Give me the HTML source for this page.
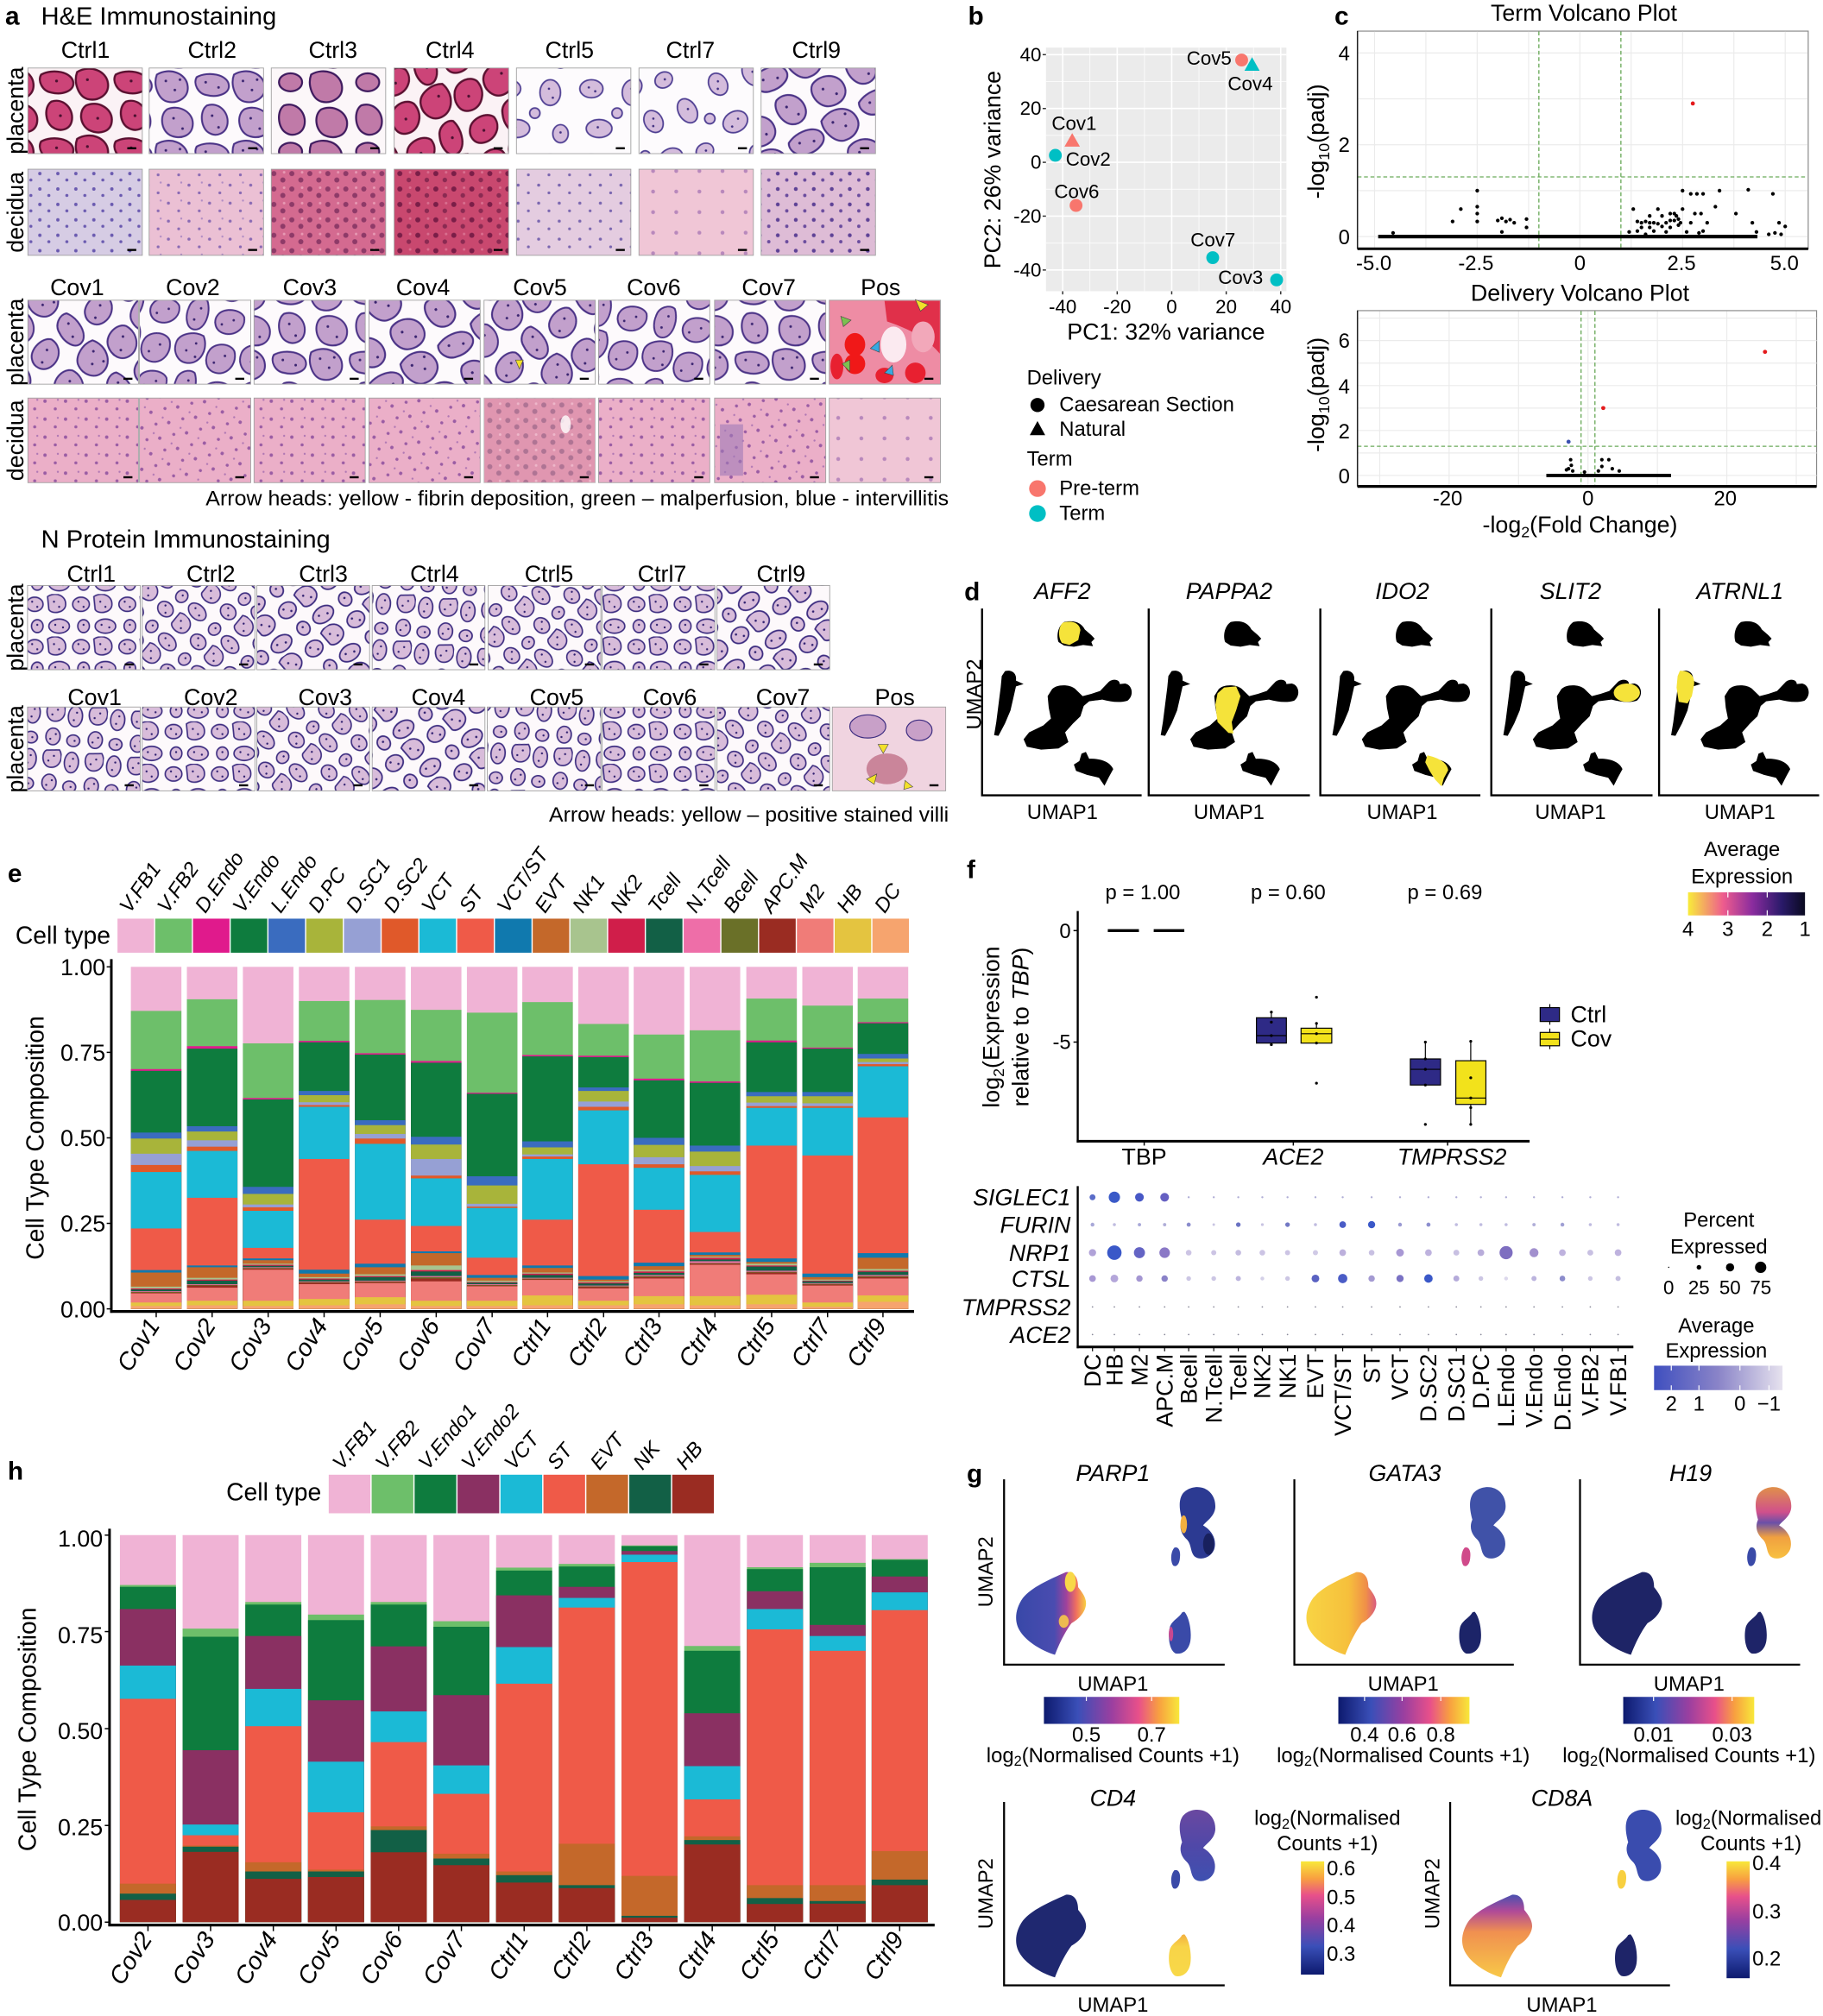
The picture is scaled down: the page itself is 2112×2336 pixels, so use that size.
<!DOCTYPE html>
<html><head><meta charset="utf-8">
<style>
html,body{margin:0;padding:0;background:#fff;}
svg{display:block;}
text{font-family:"Liberation Sans",Arial,sans-serif;fill:#000;}
.it{font-style:italic;}
.bd{font-weight:bold;}
.a0{fill:#F0B3D5}.a1{fill:#6DBF6A}.a2{fill:#E01A8C}.a3{fill:#0E7C3E}.a4{fill:#3A6CBF}.a5{fill:#A8B43A}.a6{fill:#96A0D4}.a7{fill:#E0592A}.a8{fill:#1BBAD6}.a9{fill:#EF5A48}.a10{fill:#1079AE}.a11{fill:#C4682A}.a12{fill:#A8C48E}.a13{fill:#D01E4A}.a14{fill:#126046}.a15{fill:#EE6EA8}.a16{fill:#6A7028}.a17{fill:#9A2C22}.a18{fill:#F07C78}.a19{fill:#E4C440}.a20{fill:#F6A46E}
.h0{fill:#F0B3D5}.h1{fill:#6DBF6A}.h2{fill:#0E7C3E}.h3{fill:#8A3062}.h4{fill:#1BBAD6}.h5{fill:#EF5A48}.h6{fill:#C4682A}.h7{fill:#126046}.h8{fill:#9A2C22}
</style></head><body>
<svg xmlns="http://www.w3.org/2000/svg" xmlns:xlink="http://www.w3.org/1999/xlink" width="2112" height="2336" viewBox="0 0 1418 1568" preserveAspectRatio="none">
<defs>
<pattern id="pv" width="60" height="54" patternUnits="userSpaceOnUse">
<rect width="60" height="54" fill="#FDFAFC"/>
<g fill="#C2A0CC" stroke="#4A3286" stroke-width="1.4">
<path d="M2,4 C12,-2 25,3 26,13 C27,22 18,27 10,25 C3,23 -1,12 2,4 Z"/>
<path d="M33,6 C42,1 57,4 58,12 C59,19 49,22 41,20 C34,19 30,11 33,6 Z"/>
<path d="M10,31 C19,27 30,33 30,42 C30,52 20,55 12,51 C5,47 4,35 10,31 Z"/>
<path d="M41,28 C50,25 58,33 57,42 C56,50 48,53 42,49 C36,45 35,32 41,28 Z"/>
</g>
<g fill="#3A2470"><circle cx="9" cy="9" r="1"/><circle cx="16" cy="16" r="1"/><circle cx="20" cy="8" r="1"/><circle cx="40" cy="10" r="1"/><circle cx="50" cy="14" r="1"/><circle cx="15" cy="38" r="1"/><circle cx="22" cy="46" r="1"/><circle cx="45" cy="36" r="1"/><circle cx="50" cy="45" r="1"/></g>
</pattern>
<pattern id="pv2" href="#pv" xlink:href="#pv" patternTransform="rotate(50) translate(7,3)"/>
<pattern id="pv3" href="#pv" xlink:href="#pv" patternTransform="rotate(-30) scale(1.05)"/>
<pattern id="pv4" href="#pv" xlink:href="#pv" patternTransform="rotate(100) scale(0.95)"/>
<pattern id="pr" width="58" height="52" patternUnits="userSpaceOnUse">
<rect width="58" height="52" fill="#FBF2F5"/>
<g fill="#CC4478" stroke="#5A1030" stroke-width="1.6">
<path d="M2,4 C12,-2 25,3 26,13 C27,22 18,27 10,25 C3,23 -1,12 2,4 Z"/>
<path d="M32,6 C41,1 56,4 57,12 C58,19 48,22 40,20 C33,19 29,11 32,6 Z"/>
<path d="M9,30 C18,26 29,32 29,41 C29,51 19,53 11,49 C4,45 3,34 9,30 Z"/>
<path d="M40,27 C49,24 57,32 56,41 C55,49 47,51 41,47 C35,43 34,31 40,27 Z"/>
</g>
<g fill="#4A1030"><circle cx="10" cy="10" r="1.1"/><circle cx="44" cy="11" r="1.1"/><circle cx="18" cy="40" r="1.1"/><circle cx="47" cy="38" r="1.1"/></g>
</pattern>
<pattern id="pr2" href="#pr" xlink:href="#pr" patternTransform="rotate(70) translate(3,7)"/>
<pattern id="pm" width="60" height="54" patternUnits="userSpaceOnUse">
<rect width="60" height="54" fill="#FCF7F9"/>
<g fill="#C07AA8" stroke="#3E1A5E" stroke-width="1.5">
<path d="M2,4 C12,-2 25,3 26,13 C27,22 18,27 10,25 C3,23 -1,12 2,4 Z"/>
<path d="M10,31 C19,27 30,33 30,42 C30,52 20,55 12,51 C5,47 4,35 10,31 Z"/>
<path d="M41,28 C50,25 58,33 57,42 C56,50 48,53 42,49 C36,45 35,32 41,28 Z"/>
<ellipse cx="46" cy="10" rx="9" ry="7"/>
</g>
</pattern>
<pattern id="pl" width="64" height="58" patternUnits="userSpaceOnUse">
<rect width="64" height="58" fill="#FDFBFD"/>
<g fill="#D4BCDC" stroke="#4E3E92" stroke-width="1.2">
<ellipse cx="12" cy="11" rx="9" ry="7"/><ellipse cx="44" cy="14" rx="8" ry="10"/><ellipse cx="18" cy="42" rx="10" ry="7"/><ellipse cx="52" cy="46" rx="6" ry="7"/><ellipse cx="32" cy="30" rx="4" ry="4"/>
</g>
<g fill="#3E2E80"><circle cx="10" cy="10" r="0.9"/><circle cx="15" cy="13" r="0.9"/><circle cx="43" cy="11" r="0.9"/><circle cx="46" cy="18" r="0.9"/><circle cx="17" cy="41" r="0.9"/><circle cx="52" cy="45" r="0.9"/></g>
</pattern>
<pattern id="pl2" href="#pl" xlink:href="#pl" patternTransform="rotate(60) translate(4,2)"/>
<pattern id="np" width="36" height="33" patternUnits="userSpaceOnUse">
<rect width="36" height="33" fill="#FDF9FB"/>
<g fill="#D8BCDA" stroke="#3C2C80" stroke-width="1.1">
<path d="M1,2 C7,-2 16,1 15,9 C14,15 4,16 2,12 Z"/><ellipse cx="27" cy="8" rx="6.5" ry="5.5"/><ellipse cx="10" cy="25" rx="8" ry="5.5"/><ellipse cx="29" cy="25" rx="4.5" ry="5"/>
</g>
<g fill="#302070"><circle cx="6" cy="6" r="0.8"/><circle cx="10" cy="10" r="0.8"/><circle cx="25" cy="6" r="0.8"/><circle cx="29" cy="10" r="0.8"/><circle cx="7" cy="24" r="0.8"/><circle cx="13" cy="26" r="0.8"/><circle cx="29" cy="24" r="0.8"/></g>
</pattern>
<pattern id="np2" href="#np" xlink:href="#np" patternTransform="rotate(45) translate(3,5)"/>
<pattern id="np3" href="#np" xlink:href="#np" patternTransform="rotate(-35) scale(1.1)"/>
<pattern id="np4" href="#np" xlink:href="#np" patternTransform="rotate(95)"/>
<pattern id="dp" width="16" height="14" patternUnits="userSpaceOnUse"><rect width="16" height="14" fill="#EBC0D4"/><circle cx="3" cy="4" r="1.2" fill="#8A6AB4"/><circle cx="11" cy="10" r="1.1" fill="#8A6AB4"/><circle cx="13" cy="2" r="0.8" fill="#B08CC4"/></pattern>
<pattern id="dk" width="16" height="14" patternUnits="userSpaceOnUse"><rect width="16" height="14" fill="#EBAFC8"/><circle cx="3" cy="4" r="1.3" fill="#9A5CA4"/><circle cx="11" cy="10" r="1.2" fill="#9A5CA4"/><circle cx="13" cy="3" r="0.8" fill="#B078B4"/></pattern>
<pattern id="dk2" href="#dk" xlink:href="#dk" patternTransform="rotate(30) translate(3,5)"/>
<pattern id="dd" width="14" height="12" patternUnits="userSpaceOnUse"><rect width="14" height="12" fill="#D46A90"/><circle cx="3" cy="3" r="2" fill="#8E3A68"/><circle cx="10" cy="8" r="2" fill="#8E3A68"/><circle cx="11" cy="2" r="1" fill="#E89AB4"/></pattern>
<pattern id="dd2" width="14" height="12" patternUnits="userSpaceOnUse"><rect width="14" height="12" fill="#C9486F"/><circle cx="3" cy="3" r="2" fill="#7A1E48"/><circle cx="10" cy="8" r="1.8" fill="#8A2A52"/><circle cx="11" cy="2" r="1" fill="#DA7090"/></pattern>
<pattern id="db" width="14" height="12" patternUnits="userSpaceOnUse"><rect width="14" height="12" fill="#D6CCE4"/><circle cx="3" cy="3" r="1.3" fill="#6A5AB0"/><circle cx="10" cy="8" r="1.2" fill="#6A5AB0"/></pattern>
<pattern id="dl" width="16" height="14" patternUnits="userSpaceOnUse"><rect width="16" height="14" fill="#E4CCE0"/><circle cx="3" cy="4" r="1.2" fill="#7A66B0"/><circle cx="11" cy="10" r="1.1" fill="#7A66B0"/></pattern>
<pattern id="dq" width="18" height="16" patternUnits="userSpaceOnUse"><rect width="18" height="16" fill="#F0C6D6"/><circle cx="4" cy="5" r="1.5" fill="#B888BC"/></pattern>
<pattern id="dm" width="14" height="12" patternUnits="userSpaceOnUse"><rect width="14" height="12" fill="#DEBCD6"/><circle cx="3" cy="3" r="1.5" fill="#5E4296"/><circle cx="10" cy="8" r="1.3" fill="#6A4C9E"/></pattern>
<linearGradient id="plasmaH" x1="0" x2="1" y1="0" y2="0"><stop offset="0" stop-color="#0D1A6E"/><stop offset="0.25" stop-color="#3A4FB8"/><stop offset="0.5" stop-color="#9A3FA0"/><stop offset="0.7" stop-color="#E8508A"/><stop offset="0.85" stop-color="#F8A040"/><stop offset="1" stop-color="#F8E83A"/></linearGradient>
<linearGradient id="plasmaV" x1="0" x2="0" y1="1" y2="0"><stop offset="0" stop-color="#0D1A6E"/><stop offset="0.25" stop-color="#3A4FB8"/><stop offset="0.5" stop-color="#9A3FA0"/><stop offset="0.7" stop-color="#E8508A"/><stop offset="0.85" stop-color="#F8A040"/><stop offset="1" stop-color="#F8E83A"/></linearGradient>
<linearGradient id="avg1" x1="0" x2="1"><stop offset="0" stop-color="#F8EC3A"/><stop offset="0.3" stop-color="#EE5C8E"/><stop offset="0.55" stop-color="#8A2C9E"/><stop offset="0.8" stop-color="#2A1A6A"/><stop offset="1" stop-color="#0A0A20"/></linearGradient>
<linearGradient id="avg2" x1="0" x2="1"><stop offset="0" stop-color="#3F4FBF"/><stop offset="0.5" stop-color="#8A84C8"/><stop offset="1" stop-color="#E6E2EE"/></linearGradient>
<linearGradient id="parpB" x1="0" x2="1"><stop offset="0" stop-color="#3848A8"/><stop offset="0.55" stop-color="#4A4CB0"/><stop offset="0.72" stop-color="#A0429C"/><stop offset="0.86" stop-color="#F07060"/><stop offset="1" stop-color="#F8D040"/></linearGradient>
<linearGradient id="gataB" x1="0" x2="1"><stop offset="0" stop-color="#F8D444"/><stop offset="0.6" stop-color="#F6C03C"/><stop offset="0.85" stop-color="#F09048"/><stop offset="1" stop-color="#D85A80"/></linearGradient>
<linearGradient id="h19T" x1="0" x2="0" y1="0" y2="1"><stop offset="0" stop-color="#E0904A"/><stop offset="0.35" stop-color="#D0508C"/><stop offset="0.5" stop-color="#6A50A8"/><stop offset="0.7" stop-color="#F0A040"/><stop offset="1" stop-color="#F8C040"/></linearGradient>
<linearGradient id="cd4T" x1="0" x2="0" y1="0" y2="1"><stop offset="0" stop-color="#6A48A0"/><stop offset="0.5" stop-color="#5048A8"/><stop offset="1" stop-color="#3E50B0"/></linearGradient>
<linearGradient id="cd4S" x1="0" x2="0" y1="0" y2="1"><stop offset="0" stop-color="#F2B040"/><stop offset="0.3" stop-color="#F8D448"/><stop offset="1" stop-color="#F8D848"/></linearGradient>
<linearGradient id="cd8B" x1="0" x2="0" y1="0" y2="1"><stop offset="0" stop-color="#4A50B0"/><stop offset="0.2" stop-color="#B04A98"/><stop offset="0.45" stop-color="#F09050"/><stop offset="1" stop-color="#F8C848"/></linearGradient>
<path id="gB" d="M112,258 C128,256 134,275 134,300 C140,312 150,330 148,350 C146,372 134,390 122,400 C112,420 100,455 92,488 C70,478 40,452 28,420 C18,395 20,360 34,330 C50,300 80,280 112,258 Z"/>
<path id="gT" d="M345,22 C368,18 384,45 382,80 C380,104 366,116 360,128 C374,140 386,165 380,195 C374,218 356,226 346,216 C336,204 340,180 330,166 C320,152 316,132 322,112 C318,90 314,58 324,38 C330,28 338,23 345,22 Z"/>
<path id="gL" d="M308,190 C316,186 320,200 318,220 C317,235 312,245 306,240 C300,225 302,200 308,190 Z"/>
<path id="gS" d="M326,368 C334,380 340,420 337,450 C334,476 322,488 310,484 C298,474 296,434 300,410 C304,392 316,386 322,370 Z"/>
<g id="ud" fill="#000">
<path d="M150,212 C168,204 182,214 188,238 L200,258 L206,270 L200,282 L203,296 L185,292 L168,298 L150,294 L140,282 C136,262 138,228 150,212 Z"/>
<path d="M42,383 C55,376 64,392 62,416 L76,428 L62,436 L58,470 L52,520 L42,565 L30,608 L22,606 L26,560 L30,500 L34,440 L36,400 Z"/>
<path d="M128,446 C136,428 160,428 170,444 L184,470 L200,462 L216,452 L232,420 C240,408 252,412 252,428 L262,426 C276,432 278,470 266,486 C252,494 236,490 220,482 L196,488 L186,504 L180,540 L166,566 L152,596 L158,630 L140,652 L108,656 L82,646 L76,620 L86,596 L112,572 L126,548 L122,510 L120,470 Z"/>
<path d="M182,670 L190,664 L196,688 C214,686 234,696 240,724 L232,752 L224,782 L214,754 L192,744 L172,730 L168,708 L178,696 Z"/>
</g>
</defs>
<rect width="1418" height="1568" fill="#fff"/>

<!-- ================= PANEL A ================= -->
<text x="4" y="19" font-size="20" class="bd">a</text>
<text x="32" y="19" font-size="19" textLength="183" lengthAdjust="spacingAndGlyphs">H&amp;E Immunostaining</text>
<g font-size="18" text-anchor="middle">
<text x="66.5" y="45">Ctrl1</text><text x="165" y="45">Ctrl2</text><text x="259" y="45">Ctrl3</text><text x="350" y="45">Ctrl4</text><text x="443" y="45">Ctrl5</text><text x="537" y="45">Ctrl7</text><text x="635" y="45">Ctrl9</text>
<text x="60" y="229.5">Cov1</text><text x="150" y="229.5">Cov2</text><text x="241" y="229.5">Cov3</text><text x="329" y="229.5">Cov4</text><text x="420" y="229.5">Cov5</text><text x="508.5" y="229.5">Cov6</text><text x="598" y="229.5">Cov7</text><text x="685" y="229.5">Pos</text>
<text transform="translate(18,86) rotate(-90)">placenta</text>
<text transform="translate(18,165) rotate(-90)">decidua</text>
<text transform="translate(18,266) rotate(-90)">placenta</text>
<text transform="translate(18,342.5) rotate(-90)">decidua</text>
<text transform="translate(18,488) rotate(-90)">placenta</text>
<text transform="translate(18,582.5) rotate(-90)">placenta</text>
</g>
<g stroke="#A0A0A0" stroke-width="0.6">
<rect x="21.7" y="52.9" width="89" height="66.6" fill="url(#pr)"/>
<rect x="116" y="52.9" width="89" height="66.6" fill="url(#pv)"/>
<rect x="211" y="52.9" width="89" height="66.6" fill="url(#pm)"/>
<rect x="306.6" y="52.9" width="89" height="66.6" fill="url(#pr2)"/>
<rect x="401.7" y="52.9" width="89" height="66.6" fill="url(#pl)"/>
<rect x="497" y="52.9" width="89" height="66.6" fill="url(#pl2)"/>
<rect x="592" y="52.9" width="89" height="66.6" fill="url(#pv3)"/>
<rect x="21.7" y="131.6" width="89" height="67" fill="url(#db)"/>
<rect x="116" y="131.6" width="89" height="67" fill="url(#dp)"/>
<rect x="211" y="131.6" width="89" height="67" fill="url(#dd)"/>
<rect x="306.6" y="131.6" width="89" height="67" fill="url(#dd2)"/>
<rect x="401.7" y="131.6" width="89" height="67" fill="url(#dl)"/>
<rect x="497" y="131.6" width="89" height="67" fill="url(#dq)"/>
<rect x="592" y="131.6" width="89" height="67" fill="url(#dm)"/>
<rect x="21.7" y="233.5" width="86" height="65.3" fill="url(#pv2)"/>
<rect x="108.5" y="233.5" width="86.5" height="65.3" fill="url(#pv4)"/>
<rect x="197.6" y="233.5" width="86.5" height="65.3" fill="url(#pv)"/>
<rect x="287" y="233.5" width="86.5" height="65.3" fill="url(#pv3)"/>
<rect x="376.5" y="233.5" width="86.5" height="65.3" fill="url(#pv2)"/>
<rect x="465.6" y="233.5" width="86.5" height="65.3" fill="url(#pv4)"/>
<rect x="555.8" y="233.5" width="86.5" height="65.3" fill="url(#pv)"/>
<rect x="645" y="233.5" width="86.5" height="65.3" fill="#EE8CA4"/>
<rect x="21.7" y="309.6" width="86" height="65.8" fill="url(#dk)"/>
<rect x="108.5" y="309.6" width="86.5" height="65.8" fill="url(#dk2)"/>
<rect x="197.6" y="309.6" width="86.5" height="65.8" fill="url(#dk)"/>
<rect x="287" y="309.6" width="86.5" height="65.8" fill="url(#dk2)"/>
<rect x="376.5" y="309.6" width="86.5" height="65.8" fill="url(#dd)" opacity="0.7"/>
<rect x="465.6" y="309.6" width="86.5" height="65.8" fill="url(#dk)"/>
<rect x="555.8" y="309.6" width="86.5" height="65.8" fill="url(#dk2)"/>
<rect x="645" y="309.6" width="86.5" height="65.8" fill="url(#dq)"/>
</g>
<!-- Pos placenta details -->
<g>
<path d="M688,234 L731,234 L731,275 C720,262 705,255 690,250 Z" fill="#E0304A"/>
<ellipse cx="665" cy="268" rx="8" ry="9" fill="#F01818"/><ellipse cx="665" cy="283" rx="8" ry="8" fill="#F01818"/>
<ellipse cx="695" cy="268" rx="10" ry="14" fill="#FBEAF0"/>
<ellipse cx="688" cy="292" rx="7" ry="6" fill="#E82030"/><ellipse cx="712" cy="290" rx="8" ry="8" fill="#E82030"/>
<ellipse cx="651" cy="285" rx="5" ry="10" fill="#E82030"/>
<ellipse cx="718" cy="262" rx="9" ry="12" fill="#F2A8BA"/>
<polygon points="712,233 722,237 716,242" fill="#F2E02A" stroke="#444" stroke-width="0.4"/>
<polygon points="654,246 662,249 656,254" fill="#7CC050" stroke="#444" stroke-width="0.4"/>
<polygon points="655,283 661,280 661,289" fill="#7CC050" stroke="#444" stroke-width="0.4"/>
<polygon points="677,271 684,265 684,274" fill="#38A8E0" stroke="#444" stroke-width="0.4"/>
<polygon points="688,290 694,284 695,292" fill="#38A8E0" stroke="#444" stroke-width="0.4"/>
<polygon points="401,280 407,280 404,287" fill="#F2E02A" stroke="#444" stroke-width="0.4"/>
<rect x="560" y="330" width="18" height="40" fill="#9E7AB8" opacity="0.6"/>
<ellipse cx="440" cy="330" rx="4" ry="7" fill="#FFFFFF" opacity="0.8"/>
</g>
<g fill="#000">
<rect x="99" y="114.5" width="7" height="1.6"/><rect x="193" y="114.5" width="7" height="1.6"/><rect x="288" y="114.5" width="7" height="1.6"/><rect x="384" y="114.5" width="7" height="1.6"/><rect x="479" y="114.5" width="7" height="1.6"/><rect x="574" y="114.5" width="7" height="1.6"/><rect x="669" y="114.5" width="7" height="1.6"/>
<rect x="99" y="193.6" width="7" height="1.6"/><rect x="193" y="193.6" width="7" height="1.6"/><rect x="288" y="193.6" width="7" height="1.6"/><rect x="384" y="193.6" width="7" height="1.6"/><rect x="479" y="193.6" width="7" height="1.6"/><rect x="574" y="193.6" width="7" height="1.6"/><rect x="669" y="193.6" width="7" height="1.6"/>
<rect x="96" y="293.8" width="7" height="1.6"/><rect x="183" y="293.8" width="7" height="1.6"/><rect x="272" y="293.8" width="7" height="1.6"/><rect x="361" y="293.8" width="7" height="1.6"/><rect x="451" y="293.8" width="7" height="1.6"/><rect x="540" y="293.8" width="7" height="1.6"/><rect x="630" y="293.8" width="7" height="1.6"/><rect x="719" y="293.8" width="7" height="1.6"/>
<rect x="96" y="370.4" width="7" height="1.6"/><rect x="183" y="370.4" width="7" height="1.6"/><rect x="272" y="370.4" width="7" height="1.6"/><rect x="361" y="370.4" width="7" height="1.6"/><rect x="451" y="370.4" width="7" height="1.6"/><rect x="540" y="370.4" width="7" height="1.6"/><rect x="630" y="370.4" width="7" height="1.6"/><rect x="719" y="370.4" width="7" height="1.6"/>
</g>
<text x="160" y="393" font-size="16" textLength="578" lengthAdjust="spacingAndGlyphs">Arrow heads: yellow - fibrin deposition, green – malperfusion, blue - intervillitis</text>

<!-- N protein -->
<text x="32" y="426" font-size="19" textLength="225" lengthAdjust="spacingAndGlyphs">N Protein Immunostaining</text>
<g font-size="18" text-anchor="middle">
<text x="71" y="452.5">Ctrl1</text><text x="164" y="452.5">Ctrl2</text><text x="251.5" y="452.5">Ctrl3</text><text x="338" y="452.5">Ctrl4</text><text x="427" y="452.5">Ctrl5</text><text x="515" y="452.5">Ctrl7</text><text x="607.5" y="452.5">Ctrl9</text>
<text x="73.6" y="548.5">Cov1</text><text x="164" y="548.5">Cov2</text><text x="253" y="548.5">Cov3</text><text x="341" y="548.5">Cov4</text><text x="433" y="548.5">Cov5</text><text x="521" y="548.5">Cov6</text><text x="609" y="548.5">Cov7</text><text x="696" y="548.5">Pos</text>
</g>
<g stroke="#A0A0A0" stroke-width="0.6">
<rect x="21.4" y="455.4" width="87.7" height="65.5" fill="url(#np)"/>
<rect x="110.6" y="455.4" width="87.7" height="65.5" fill="url(#np2)"/>
<rect x="199.8" y="455.4" width="87.7" height="65.5" fill="url(#np3)"/>
<rect x="289.5" y="455.4" width="87.7" height="65.5" fill="url(#np4)"/>
<rect x="379.7" y="455.4" width="87.7" height="65.5" fill="url(#np2)"/>
<rect x="468.4" y="455.4" width="87.7" height="65.5" fill="url(#np)"/>
<rect x="557.7" y="455.4" width="87.7" height="65.5" fill="url(#np3)"/>
<rect x="21.4" y="549.9" width="87.7" height="65.2" fill="url(#np4)"/>
<rect x="110.6" y="549.9" width="87.7" height="65.2" fill="url(#np)"/>
<rect x="199.8" y="549.9" width="87.7" height="65.2" fill="url(#np2)"/>
<rect x="289.5" y="549.9" width="87.7" height="65.2" fill="url(#np3)"/>
<rect x="379" y="549.9" width="88.4" height="65.2" fill="url(#np4)"/>
<rect x="468.4" y="549.9" width="87.7" height="65.2" fill="url(#np)"/>
<rect x="557.7" y="549.9" width="87.7" height="65.2" fill="url(#np2)"/>
<rect x="647.4" y="549.9" width="88.2" height="65.2" fill="#F0D4E0"/>
</g>
<g>
<ellipse cx="690" cy="598" rx="16" ry="12" fill="#C07088" opacity="0.8"/>
<ellipse cx="675" cy="565" rx="14" ry="9" fill="#C8A0C8" stroke="#3C2C80" stroke-width="0.8"/>
<ellipse cx="715" cy="568" rx="10" ry="8" fill="#C8A0C8" stroke="#3C2C80" stroke-width="0.8"/>
<polygon points="683,579 691,579 687,586" fill="#F2E02A" stroke="#444" stroke-width="0.4"/>
<polygon points="674,606 682,602 680,610" fill="#F2E02A" stroke="#444" stroke-width="0.4"/>
<polygon points="704,607 710,612 703,614" fill="#F2E02A" stroke="#444" stroke-width="0.4"/>
</g>
<g fill="#000">
<rect x="97" y="516" width="7" height="1.6"/><rect x="186" y="516" width="7" height="1.6"/><rect x="275" y="516" width="7" height="1.6"/><rect x="365" y="516" width="7" height="1.6"/><rect x="455" y="516" width="7" height="1.6"/><rect x="544" y="516" width="7" height="1.6"/><rect x="633" y="516" width="7" height="1.6"/>
<rect x="97" y="610" width="7" height="1.6"/><rect x="186" y="610" width="7" height="1.6"/><rect x="275" y="610" width="7" height="1.6"/><rect x="365" y="610" width="7" height="1.6"/><rect x="455" y="610" width="7" height="1.6"/><rect x="544" y="610" width="7" height="1.6"/><rect x="633" y="610" width="7" height="1.6"/><rect x="723" y="610" width="7" height="1.6"/>
</g>
<text x="427" y="639" font-size="16" textLength="311" lengthAdjust="spacingAndGlyphs">Arrow heads: yellow – positive stained villi</text>

<!-- ================= PANEL B ================= -->
<text x="753" y="19" font-size="20" class="bd">b</text>
<rect x="813.6" y="37" width="187" height="189.5" fill="#EBEBEB"/>
<g stroke="#fff" stroke-width="0.5">
<line x1="847.8" y1="37" x2="847.8" y2="226.5"/><line x1="890.2" y1="37" x2="890.2" y2="226.5"/><line x1="932.6" y1="37" x2="932.6" y2="226.5"/><line x1="975" y1="37" x2="975" y2="226.5"/>
<line x1="813.6" y1="63.4" x2="1000.6" y2="63.4"/><line x1="813.6" y1="105.3" x2="1000.6" y2="105.3"/><line x1="813.6" y1="147.2" x2="1000.6" y2="147.2"/><line x1="813.6" y1="189.1" x2="1000.6" y2="189.1"/>
</g>
<g stroke="#fff" stroke-width="1.1">
<line x1="826.6" y1="37" x2="826.6" y2="226.5"/><line x1="869" y1="37" x2="869" y2="226.5"/><line x1="911.4" y1="37" x2="911.4" y2="226.5"/><line x1="953.8" y1="37" x2="953.8" y2="226.5"/><line x1="996.2" y1="37" x2="996.2" y2="226.5"/>
<line x1="813.6" y1="42.5" x2="1000.6" y2="42.5"/><line x1="813.6" y1="84.4" x2="1000.6" y2="84.4"/><line x1="813.6" y1="126.25" x2="1000.6" y2="126.25"/><line x1="813.6" y1="168.1" x2="1000.6" y2="168.1"/><line x1="813.6" y1="210" x2="1000.6" y2="210"/>
</g>
<g stroke="#333" stroke-width="1">
<line x1="811" y1="42.5" x2="813.6" y2="42.5"/><line x1="811" y1="84.4" x2="813.6" y2="84.4"/><line x1="811" y1="126.25" x2="813.6" y2="126.25"/><line x1="811" y1="168.1" x2="813.6" y2="168.1"/><line x1="811" y1="210" x2="813.6" y2="210"/>
<line x1="826.6" y1="226.5" x2="826.6" y2="229"/><line x1="869" y1="226.5" x2="869" y2="229"/><line x1="911.4" y1="226.5" x2="911.4" y2="229"/><line x1="953.8" y1="226.5" x2="953.8" y2="229"/><line x1="996.2" y1="226.5" x2="996.2" y2="229"/>
</g>
<g font-size="15" text-anchor="end" fill="#222">
<text x="810" y="47.5">40</text><text x="810" y="89.4">20</text><text x="810" y="131.3">0</text><text x="810" y="173.1">-20</text><text x="810" y="215">-40</text>
</g>
<g font-size="15" text-anchor="middle">
<text x="826.6" y="243.5">-40</text><text x="869" y="243.5">-20</text><text x="911.4" y="243.5">0</text><text x="953.8" y="243.5">20</text><text x="996.2" y="243.5">40</text>
</g>
<text x="907" y="264" font-size="18" text-anchor="middle">PC1: 32% variance</text>
<text transform="translate(778,132) rotate(-90)" font-size="18" text-anchor="middle">PC2: 26% variance</text>
<circle cx="965.8" cy="46.7" r="5" fill="#F8766D"/>
<polygon points="973.9,44.5 979.8,55 968,55" fill="#00BFC4"/>
<polygon points="834,103.5 840,114 828,114" fill="#F8766D"/>
<circle cx="820.9" cy="120.8" r="5" fill="#00BFC4"/>
<circle cx="837" cy="159.8" r="5" fill="#F8766D"/>
<circle cx="943.3" cy="200.4" r="5" fill="#00BFC4"/>
<circle cx="993" cy="217.7" r="5" fill="#00BFC4"/>
<g font-size="15">
<text x="958" y="50.5" text-anchor="end" fill="#F8766D">Cov5</text>
<text x="955" y="70" fill="#00BFC4">Cov4</text>
<text x="818" y="101" fill="#F8766D">Cov1</text>
<text x="829" y="129" fill="#00BFC4">Cov2</text>
<text x="820" y="154" fill="#F8766D">Cov6</text>
<text x="926" y="191.5" fill="#00BFC4">Cov7</text>
<text x="947.5" y="221" fill="#00BFC4">Cov3</text>
</g>
<g font-size="16">
<text x="798.7" y="299">Delivery</text>
<circle cx="807" cy="315" r="5.5" fill="#000"/><text x="824" y="320">Caesarean Section</text>
<polygon points="807,327.5 813,338.5 801,338.5" fill="#000"/><text x="824" y="339">Natural</text>
<text x="798.7" y="362">Term</text>
<circle cx="807" cy="380" r="6.5" fill="#F8766D"/><text x="824" y="385">Pre-term</text>
<circle cx="807" cy="399.4" r="6.5" fill="#00BFC4"/><text x="824" y="404.5">Term</text>
</g>

<!-- ================= PANEL C ================= -->
<text x="1038" y="19" font-size="20" class="bd">c</text>
<text x="1232" y="16" font-size="18" text-anchor="middle">Term Volcano Plot</text>
<rect x="1055.9" y="24.2" width="350.6" height="169.3" fill="#fff" stroke="#8A8A8A" stroke-width="0.8"/>
<g stroke="#EBEBEB" stroke-width="0.8">
<line x1="1069.2" y1="24.5" x2="1069.2" y2="193"/><line x1="1149" y1="24.5" x2="1149" y2="193"/><line x1="1228.9" y1="24.5" x2="1228.9" y2="193"/><line x1="1308.8" y1="24.5" x2="1308.8" y2="193"/><line x1="1388.6" y1="24.5" x2="1388.6" y2="193"/>
<line x1="1109.1" y1="24.5" x2="1109.1" y2="193"/><line x1="1189" y1="24.5" x2="1189" y2="193"/><line x1="1268.8" y1="24.5" x2="1268.8" y2="193"/><line x1="1348.7" y1="24.5" x2="1348.7" y2="193"/>
<line x1="1056" y1="184" x2="1406" y2="184"/><line x1="1056" y1="148.3" x2="1406" y2="148.3"/><line x1="1056" y1="112.6" x2="1406" y2="112.6"/><line x1="1056" y1="76.9" x2="1406" y2="76.9"/><line x1="1056" y1="41.2" x2="1406" y2="41.2"/>
</g>
<g stroke="#6AAA5A" stroke-width="0.9" stroke-dasharray="3,2">
<line x1="1197" y1="24.5" x2="1197" y2="193"/><line x1="1260.8" y1="24.5" x2="1260.8" y2="193"/><line x1="1056" y1="137.6" x2="1406" y2="137.6"/>
</g>
<line x1="1055.9" y1="193.5" x2="1406.5" y2="193.5" stroke="#000" stroke-width="2"/>
<line x1="1055.9" y1="24.2" x2="1055.9" y2="193.5" stroke="#222" stroke-width="1"/>
<rect x="1072" y="182.6" width="295" height="2.8" fill="#000"/>
<g transform="translate(1228.9,184) scale(31.94,-35.7)" fill="#000">
<g>
<ellipse cx="-2.5" cy="1.0" rx="0.045" ry="0.04"/><ellipse cx="-2.9" cy="0.6" rx="0.045" ry="0.04"/><ellipse cx="-2.5" cy="0.65" rx="0.045" ry="0.04"/><ellipse cx="-2.5" cy="0.5" rx="0.045" ry="0.04"/><ellipse cx="-3.1" cy="0.33" rx="0.045" ry="0.04"/><ellipse cx="-2.5" cy="0.33" rx="0.045" ry="0.04"/><ellipse cx="-1.9" cy="0.4" rx="0.045" ry="0.04"/><ellipse cx="-1.8" cy="0.33" rx="0.045" ry="0.04"/><ellipse cx="-1.7" cy="0.37" rx="0.045" ry="0.04"/><ellipse cx="-1.3" cy="0.38" rx="0.045" ry="0.04"/><ellipse cx="-1.3" cy="0.2" rx="0.045" ry="0.04"/><ellipse cx="-1.9" cy="0.1" rx="0.045" ry="0.04"/><ellipse cx="-1.6" cy="0.3" rx="0.045" ry="0.04"/><ellipse cx="-2.0" cy="0.35" rx="0.045" ry="0.04"/><ellipse cx="-4.55" cy="0.08" rx="0.045" ry="0.04"/>
<ellipse cx="2.5" cy="1.0" rx="0.045" ry="0.04"/><ellipse cx="2.7" cy="0.93" rx="0.045" ry="0.04"/><ellipse cx="2.85" cy="0.93" rx="0.045" ry="0.04"/><ellipse cx="3.0" cy="0.93" rx="0.045" ry="0.04"/><ellipse cx="3.4" cy="1.0" rx="0.045" ry="0.04"/><ellipse cx="4.1" cy="1.02" rx="0.045" ry="0.04"/><ellipse cx="4.7" cy="0.93" rx="0.045" ry="0.04"/><ellipse cx="3.3" cy="0.65" rx="0.045" ry="0.04"/><ellipse cx="1.3" cy="0.6" rx="0.045" ry="0.04"/><ellipse cx="1.9" cy="0.6" rx="0.045" ry="0.04"/><ellipse cx="2.5" cy="0.6" rx="0.045" ry="0.04"/><ellipse cx="2.2" cy="0.5" rx="0.045" ry="0.04"/><ellipse cx="2.3" cy="0.5" rx="0.045" ry="0.04"/><ellipse cx="2.0" cy="0.45" rx="0.045" ry="0.04"/><ellipse cx="2.35" cy="0.45" rx="0.045" ry="0.04"/><ellipse cx="2.8" cy="0.5" rx="0.045" ry="0.04"/><ellipse cx="2.95" cy="0.5" rx="0.045" ry="0.04"/><ellipse cx="1.7" cy="0.45" rx="0.045" ry="0.04"/><ellipse cx="3.8" cy="0.5" rx="0.045" ry="0.04"/><ellipse cx="1.4" cy="0.33" rx="0.045" ry="0.04"/><ellipse cx="1.5" cy="0.3" rx="0.045" ry="0.04"/><ellipse cx="1.6" cy="0.33" rx="0.045" ry="0.04"/><ellipse cx="1.7" cy="0.3" rx="0.045" ry="0.04"/><ellipse cx="1.8" cy="0.3" rx="0.045" ry="0.04"/><ellipse cx="1.9" cy="0.28" rx="0.045" ry="0.04"/><ellipse cx="2.1" cy="0.3" rx="0.045" ry="0.04"/><ellipse cx="2.2" cy="0.35" rx="0.045" ry="0.04"/><ellipse cx="2.3" cy="0.35" rx="0.045" ry="0.04"/><ellipse cx="2.4" cy="0.38" rx="0.045" ry="0.04"/><ellipse cx="2.45" cy="0.3" rx="0.045" ry="0.04"/><ellipse cx="1.5" cy="0.2" rx="0.045" ry="0.04"/><ellipse cx="1.7" cy="0.2" rx="0.045" ry="0.04"/><ellipse cx="2.0" cy="0.22" rx="0.045" ry="0.04"/><ellipse cx="2.2" cy="0.2" rx="0.045" ry="0.04"/><ellipse cx="2.4" cy="0.25" rx="0.045" ry="0.04"/><ellipse cx="2.7" cy="0.3" rx="0.045" ry="0.04"/><ellipse cx="3.1" cy="0.3" rx="0.045" ry="0.04"/><ellipse cx="4.2" cy="0.3" rx="0.045" ry="0.04"/><ellipse cx="4.85" cy="0.3" rx="0.045" ry="0.04"/><ellipse cx="5.0" cy="0.22" rx="0.045" ry="0.04"/><ellipse cx="1.2" cy="0.1" rx="0.045" ry="0.04"/><ellipse cx="1.4" cy="0.12" rx="0.045" ry="0.04"/><ellipse cx="1.8" cy="0.12" rx="0.045" ry="0.04"/><ellipse cx="2.1" cy="0.1" rx="0.045" ry="0.04"/><ellipse cx="2.6" cy="0.1" rx="0.045" ry="0.04"/><ellipse cx="3.0" cy="0.12" rx="0.045" ry="0.04"/><ellipse cx="4.6" cy="0.05" rx="0.045" ry="0.04"/><ellipse cx="4.75" cy="0.08" rx="0.045" ry="0.04"/><ellipse cx="4.9" cy="0.05" rx="0.045" ry="0.04"/><ellipse cx="4.3" cy="0.1" rx="0.045" ry="0.04"/><ellipse cx="1.6" cy="0.05" rx="0.045" ry="0.04"/><ellipse cx="2.9" cy="0.08" rx="0.045" ry="0.04"/>
</g>
<ellipse cx="2.75" cy="2.9" rx="0.05" ry="0.045" fill="#E41A1C"/>
</g>
<g font-size="16" text-anchor="end">
<text x="1050" y="47">4</text><text x="1050" y="118">2</text><text x="1050" y="190">0</text>
</g>
<g font-size="16" text-anchor="middle">
<text x="1068.6" y="210">-5.0</text><text x="1148" y="210">-2.5</text><text x="1228.9" y="210">0</text><text x="1307.9" y="210">2.5</text><text x="1388" y="210">5.0</text>
</g>
<text transform="translate(1030,110) rotate(-90)" font-size="18" text-anchor="middle">-log<tspan font-size="12" dy="4">10</tspan><tspan dy="-4">(padj)</tspan></text>

<text x="1229" y="234" font-size="18" text-anchor="middle">Delivery Volcano Plot</text>
<rect x="1055.9" y="241.6" width="357.1" height="136.7" fill="#fff" stroke="#8A8A8A" stroke-width="0.8"/>
<g stroke="#EBEBEB" stroke-width="0.8">
<line x1="1127.2" y1="242" x2="1127.2" y2="378"/><line x1="1235.2" y1="242" x2="1235.2" y2="378"/><line x1="1343.2" y1="242" x2="1343.2" y2="378"/><line x1="1073.2" y1="242" x2="1073.2" y2="378"/><line x1="1181.2" y1="242" x2="1181.2" y2="378"/><line x1="1289.2" y1="242" x2="1289.2" y2="378"/><line x1="1397.2" y1="242" x2="1397.2" y2="378"/>
<line x1="1056" y1="369.8" x2="1413" y2="369.8"/><line x1="1056" y1="334.8" x2="1413" y2="334.8"/><line x1="1056" y1="299.9" x2="1413" y2="299.9"/><line x1="1056" y1="264.9" x2="1413" y2="264.9"/><line x1="1056" y1="352.3" x2="1413" y2="352.3"/><line x1="1056" y1="317.4" x2="1413" y2="317.4"/><line x1="1056" y1="282.4" x2="1413" y2="282.4"/><line x1="1056" y1="247.4" x2="1413" y2="247.4"/>
</g>
<g stroke="#6AAA5A" stroke-width="0.9" stroke-dasharray="3,2">
<line x1="1229.8" y1="242" x2="1229.8" y2="378"/><line x1="1240.6" y1="242" x2="1240.6" y2="378"/><line x1="1056" y1="347.1" x2="1413" y2="347.1"/>
</g>
<line x1="1055.9" y1="378.3" x2="1413" y2="378.3" stroke="#000" stroke-width="2.2"/>
<line x1="1055.9" y1="241.6" x2="1055.9" y2="378.3" stroke="#222" stroke-width="1"/>
<rect x="1202.8" y="368.5" width="97" height="2.6" fill="#000"/>
<g transform="translate(1235.2,369.8) scale(5.4,-17.48)" fill="#000">
<ellipse cx="-2.5" cy="0.7" rx="0.26" ry="0.08"/><ellipse cx="-2.8" cy="0.3" rx="0.26" ry="0.08"/><ellipse cx="-3.1" cy="0.25" rx="0.26" ry="0.08"/><ellipse cx="-2.2" cy="0.2" rx="0.26" ry="0.08"/><ellipse cx="-2.4" cy="0.45" rx="0.26" ry="0.08"/><ellipse cx="2" cy="0.7" rx="0.26" ry="0.08"/><ellipse cx="3" cy="0.7" rx="0.26" ry="0.08"/><ellipse cx="2" cy="0.4" rx="0.26" ry="0.08"/><ellipse cx="3.5" cy="0.3" rx="0.26" ry="0.08"/><ellipse cx="1.5" cy="0.2" rx="0.26" ry="0.08"/><ellipse cx="4.5" cy="0.2" rx="0.26" ry="0.08"/><ellipse cx="-0.5" cy="0.15" rx="0.26" ry="0.08"/>
<ellipse cx="25.5" cy="5.5" rx="0.3" ry="0.09" fill="#E41A1C"/><ellipse cx="2.2" cy="3.0" rx="0.3" ry="0.09" fill="#E41A1C"/><ellipse cx="-2.8" cy="1.5" rx="0.3" ry="0.09" fill="#3A50B0"/>
</g>
<g font-size="16" text-anchor="end">
<text x="1050" y="270.5">6</text><text x="1050" y="306">4</text><text x="1050" y="341">2</text><text x="1050" y="376">0</text>
</g>
<g font-size="16" text-anchor="middle">
<text x="1126" y="393">-20</text><text x="1235.2" y="393">0</text><text x="1342" y="393">20</text>
</g>
<text transform="translate(1030,307) rotate(-90)" font-size="18" text-anchor="middle">-log<tspan font-size="12" dy="4">10</tspan><tspan dy="-4">(padj)</tspan></text>
<text x="1229" y="414" font-size="18" text-anchor="middle">-log<tspan font-size="12" dy="4">2</tspan><tspan dy="-4">(Fold Change)</tspan></text>

<!-- ================= PANEL D ================= -->
<text x="750" y="467" font-size="20" class="bd">d</text>
<text transform="translate(763,540) rotate(-90)" font-size="16" text-anchor="middle">UMAP2</text>
<g font-size="18" text-anchor="middle" class="it">
<text x="826.4" y="466">AFF2</text><text x="956" y="466">PAPPA2</text><text x="1090.7" y="466">IDO2</text><text x="1221.6" y="466">SLIT2</text><text x="1353.4" y="466">ATRNL1</text>
</g>
<g font-size="16" text-anchor="middle">
<text x="826.4" y="637">UMAP1</text><text x="956" y="637">UMAP1</text><text x="1090.7" y="637">UMAP1</text><text x="1221.6" y="637">UMAP1</text><text x="1353.4" y="637">UMAP1</text>
</g>
<g fill="none" stroke="#000" stroke-width="1.6">
<path d="M763.9,473.3 V618.6 H888"/><path d="M893.5,473.3 V618.6 H1018.9"/><path d="M1027,473.3 V618.6 H1151.5"/><path d="M1160,473.3 V618.6 H1285.4"/><path d="M1290.5,473.3 V618.6 H1415"/>
</g>
<g transform="translate(763.9,436.4) scale(0.425,0.2235)"><use href="#ud" xlink:href="#ud"/><path d="M148,214 C165,205 178,215 180,240 L176,275 L160,292 L146,285 C138,262 140,228 148,214 Z" fill="#F5E33A"/></g>
<g transform="translate(893.5,436.4) scale(0.425,0.2235)"><use href="#ud" xlink:href="#ud"/><path d="M138,440 L160,436 L168,470 L160,520 L152,560 L155,600 L146,598 L126,560 L122,500 L126,460 Z" fill="#F5E33A"/></g>
<g transform="translate(1027,436.4) scale(0.425,0.2235)"><use href="#ud" xlink:href="#ud"/><path d="M196,676 C214,684 232,698 234,728 L226,756 L222,784 L210,760 L200,730 L192,700 Z" fill="#F5E33A"/></g>
<g transform="translate(1160,436.4) scale(0.425,0.2235)"><use href="#ud" xlink:href="#ud"/><ellipse cx="248" cy="458" rx="24" ry="32" fill="#F5E33A"/></g>
<g transform="translate(1290.5,436.4) scale(0.425,0.2235)"><use href="#ud" xlink:href="#ud"/><path d="M38,382 C55,380 66,400 64,430 L60,470 L52,495 L36,490 L32,440 L34,400 Z" fill="#F5E33A"/></g>

<!-- ================= PANEL E ================= -->
<text x="6" y="686" font-size="20" class="bd">e</text>
<text x="12" y="734" font-size="19">Cell type</text>
<g>
<rect class="a0" x="91.4" y="714.5" width="28.4" height="26.5"/><rect class="a1" x="120.76" y="714.5" width="28.4" height="26.5"/><rect class="a2" x="150.12" y="714.5" width="28.4" height="26.5"/><rect class="a3" x="179.48" y="714.5" width="28.4" height="26.5"/><rect class="a4" x="208.84" y="714.5" width="28.4" height="26.5"/><rect class="a5" x="238.2" y="714.5" width="28.4" height="26.5"/><rect class="a6" x="267.56" y="714.5" width="28.4" height="26.5"/><rect class="a7" x="296.92" y="714.5" width="28.4" height="26.5"/><rect class="a8" x="326.28" y="714.5" width="28.4" height="26.5"/><rect class="a9" x="355.64" y="714.5" width="28.4" height="26.5"/><rect class="a10" x="385" y="714.5" width="28.4" height="26.5"/><rect class="a11" x="414.36" y="714.5" width="28.4" height="26.5"/><rect class="a12" x="443.72" y="714.5" width="28.4" height="26.5"/><rect class="a13" x="473.08" y="714.5" width="28.4" height="26.5"/><rect class="a14" x="502.44" y="714.5" width="28.4" height="26.5"/><rect class="a15" x="531.8" y="714.5" width="28.4" height="26.5"/><rect class="a16" x="561.16" y="714.5" width="28.4" height="26.5"/><rect class="a17" x="590.52" y="714.5" width="28.4" height="26.5"/><rect class="a18" x="619.88" y="714.5" width="28.4" height="26.5"/><rect class="a19" x="649.24" y="714.5" width="28.4" height="26.5"/><rect class="a20" x="678.6" y="714.5" width="28.4" height="26.5"/>
</g>
<g font-size="16" class="it">
<text transform="translate(101,711) rotate(-55)">V.FB1</text><text transform="translate(130.4,711) rotate(-55)">V.FB2</text><text transform="translate(159.7,711) rotate(-55)">D.Endo</text><text transform="translate(189.1,711) rotate(-55)">V.Endo</text><text transform="translate(218.4,711) rotate(-55)">L.Endo</text><text transform="translate(247.8,711) rotate(-55)">D.PC</text><text transform="translate(277.2,711) rotate(-55)">D.SC1</text><text transform="translate(306.5,711) rotate(-55)">D.SC2</text><text transform="translate(335.9,711) rotate(-55)">VCT</text><text transform="translate(365.2,711) rotate(-55)">ST</text><text transform="translate(394.6,711) rotate(-55)">VCT/ST</text><text transform="translate(424,711) rotate(-55)">EVT</text><text transform="translate(453.3,711) rotate(-55)">NK1</text><text transform="translate(482.7,711) rotate(-55)">NK2</text><text transform="translate(512,711) rotate(-55)">Tcell</text><text transform="translate(541.4,711) rotate(-55)">N.Tcell</text><text transform="translate(570.8,711) rotate(-55)">Bcell</text><text transform="translate(600.1,711) rotate(-55)">APC.M</text><text transform="translate(629.5,711) rotate(-55)">M2</text><text transform="translate(658.8,711) rotate(-55)">HB</text><text transform="translate(688.2,711) rotate(-55)">DC</text>
</g>
<g transform="translate(0,659.3) scale(0.4735,0.27423)">
<g transform="translate(215,0)"><rect class="a0" y="338" width="83" height="970"/><rect class="a1" y="463" width="83" height="845"/><rect class="a2" y="628" width="83" height="680"/><rect class="a3" y="633" width="83" height="675"/><rect class="a4" y="808" width="83" height="500"/><rect class="a5" y="825" width="83" height="483"/><rect class="a6" y="868" width="83" height="440"/><rect class="a7" y="900" width="83" height="408"/><rect class="a8" y="920" width="83" height="388"/><rect class="a9" y="1080" width="83" height="228"/><rect class="a10" y="1198" width="83" height="110"/><rect class="a11" y="1205" width="83" height="103"/><rect class="a12" y="1245" width="83" height="63"/><rect class="a13" y="1250" width="83" height="58"/><rect class="a14" y="1253" width="83" height="55"/><rect class="a15" y="1258" width="83" height="50"/><rect class="a16" y="1260" width="83" height="48"/><rect class="a17" y="1262" width="83" height="46"/><rect class="a18" y="1264" width="83" height="44"/><rect class="a19" y="1290" width="83" height="18"/><rect class="a20" y="1300" width="83" height="8"/></g>
<g transform="translate(307,0)"><rect class="a0" y="338" width="83" height="970"/><rect class="a1" y="430" width="83" height="878"/><rect class="a2" y="563" width="83" height="745"/><rect class="a3" y="570" width="83" height="738"/><rect class="a4" y="790" width="83" height="518"/><rect class="a5" y="805" width="83" height="503"/><rect class="a6" y="830" width="83" height="478"/><rect class="a7" y="848" width="83" height="460"/><rect class="a8" y="860" width="83" height="448"/><rect class="a9" y="993" width="83" height="315"/><rect class="a10" y="1185" width="83" height="123"/><rect class="a11" y="1190" width="83" height="118"/><rect class="a12" y="1220" width="83" height="88"/><rect class="a13" y="1225" width="83" height="83"/><rect class="a14" y="1228" width="83" height="80"/><rect class="a15" y="1238" width="83" height="70"/><rect class="a16" y="1240" width="83" height="68"/><rect class="a17" y="1242" width="83" height="66"/><rect class="a18" y="1248" width="83" height="60"/><rect class="a19" y="1285" width="83" height="23"/><rect class="a20" y="1298" width="83" height="10"/></g>
<g transform="translate(399,0)"><rect class="a0" y="338" width="83" height="970"/><rect class="a1" y="555" width="83" height="753"/><rect class="a2" y="710" width="83" height="598"/><rect class="a3" y="714" width="83" height="594"/><rect class="a4" y="962" width="83" height="346"/><rect class="a5" y="982" width="83" height="326"/><rect class="a6" y="1012" width="83" height="296"/><rect class="a7" y="1020" width="83" height="288"/><rect class="a8" y="1030" width="83" height="278"/><rect class="a9" y="1135" width="83" height="173"/><rect class="a10" y="1165" width="83" height="143"/><rect class="a11" y="1170" width="83" height="138"/><rect class="a12" y="1180" width="83" height="128"/><rect class="a13" y="1183" width="83" height="125"/><rect class="a14" y="1186" width="83" height="122"/><rect class="a15" y="1190" width="83" height="118"/><rect class="a16" y="1192" width="83" height="116"/><rect class="a17" y="1194" width="83" height="114"/><rect class="a18" y="1197" width="83" height="111"/><rect class="a19" y="1285" width="83" height="23"/><rect class="a20" y="1300" width="83" height="8"/></g>
<g transform="translate(491,0)"><rect class="a0" y="338" width="83" height="970"/><rect class="a1" y="435" width="83" height="873"/><rect class="a2" y="548" width="83" height="760"/><rect class="a3" y="552" width="83" height="756"/><rect class="a4" y="690" width="83" height="618"/><rect class="a5" y="702" width="83" height="606"/><rect class="a6" y="722" width="83" height="586"/><rect class="a7" y="730" width="83" height="578"/><rect class="a8" y="735" width="83" height="573"/><rect class="a9" y="883" width="83" height="425"/><rect class="a10" y="1197" width="83" height="111"/><rect class="a11" y="1208" width="83" height="100"/><rect class="a12" y="1218" width="83" height="90"/><rect class="a13" y="1222" width="83" height="86"/><rect class="a14" y="1225" width="83" height="83"/><rect class="a15" y="1230" width="83" height="78"/><rect class="a16" y="1232" width="83" height="76"/><rect class="a17" y="1234" width="83" height="74"/><rect class="a18" y="1238" width="83" height="70"/><rect class="a19" y="1280" width="83" height="28"/><rect class="a20" y="1298" width="83" height="10"/></g>
<g transform="translate(583,0)"><rect class="a0" y="338" width="83" height="970"/><rect class="a1" y="432" width="83" height="876"/><rect class="a2" y="583" width="83" height="725"/><rect class="a3" y="587" width="83" height="721"/><rect class="a4" y="773" width="83" height="535"/><rect class="a5" y="787" width="83" height="521"/><rect class="a6" y="812" width="83" height="496"/><rect class="a7" y="825" width="83" height="483"/><rect class="a8" y="840" width="83" height="468"/><rect class="a9" y="1055" width="83" height="253"/><rect class="a10" y="1180" width="83" height="128"/><rect class="a11" y="1190" width="83" height="118"/><rect class="a12" y="1210" width="83" height="98"/><rect class="a13" y="1215" width="83" height="93"/><rect class="a14" y="1218" width="83" height="90"/><rect class="a15" y="1228" width="83" height="80"/><rect class="a16" y="1230" width="83" height="78"/><rect class="a17" y="1232" width="83" height="76"/><rect class="a18" y="1235" width="83" height="73"/><rect class="a19" y="1275" width="83" height="33"/><rect class="a20" y="1295" width="83" height="13"/></g>
<g transform="translate(675,0)"><rect class="a0" y="338" width="83" height="970"/><rect class="a1" y="460" width="83" height="848"/><rect class="a2" y="605" width="83" height="703"/><rect class="a3" y="610" width="83" height="698"/><rect class="a4" y="820" width="83" height="488"/><rect class="a5" y="842" width="83" height="466"/><rect class="a6" y="883" width="83" height="425"/><rect class="a7" y="930" width="83" height="378"/><rect class="a8" y="938" width="83" height="370"/><rect class="a9" y="1073" width="83" height="235"/><rect class="a10" y="1145" width="83" height="163"/><rect class="a11" y="1150" width="83" height="158"/><rect class="a12" y="1185" width="83" height="123"/><rect class="a13" y="1198" width="83" height="110"/><rect class="a14" y="1202" width="83" height="106"/><rect class="a15" y="1215" width="83" height="93"/><rect class="a16" y="1218" width="83" height="90"/><rect class="a17" y="1222" width="83" height="86"/><rect class="a18" y="1230" width="83" height="78"/><rect class="a19" y="1285" width="83" height="23"/><rect class="a20" y="1300" width="83" height="8"/></g>
<g transform="translate(767,0)"><rect class="a0" y="338" width="83" height="970"/><rect class="a1" y="468" width="83" height="840"/><rect class="a2" y="695" width="83" height="613"/><rect class="a3" y="698" width="83" height="610"/><rect class="a4" y="932" width="83" height="376"/><rect class="a5" y="958" width="83" height="350"/><rect class="a6" y="1010" width="83" height="298"/><rect class="a7" y="1018" width="83" height="290"/><rect class="a8" y="1022" width="83" height="286"/><rect class="a9" y="1163" width="83" height="145"/><rect class="a10" y="1212" width="83" height="96"/><rect class="a11" y="1220" width="83" height="88"/><rect class="a12" y="1228" width="83" height="80"/><rect class="a13" y="1232" width="83" height="76"/><rect class="a14" y="1234" width="83" height="74"/><rect class="a15" y="1238" width="83" height="70"/><rect class="a16" y="1240" width="83" height="68"/><rect class="a17" y="1242" width="83" height="66"/><rect class="a18" y="1244" width="83" height="64"/><rect class="a19" y="1285" width="83" height="23"/><rect class="a20" y="1300" width="83" height="8"/></g>
<g transform="translate(858,0)"><rect class="a0" y="338" width="83" height="970"/><rect class="a1" y="438" width="83" height="870"/><rect class="a2" y="588" width="83" height="720"/><rect class="a3" y="592" width="83" height="716"/><rect class="a4" y="833" width="83" height="475"/><rect class="a5" y="850" width="83" height="458"/><rect class="a6" y="870" width="83" height="438"/><rect class="a7" y="876" width="83" height="432"/><rect class="a8" y="883" width="83" height="425"/><rect class="a9" y="1055" width="83" height="253"/><rect class="a10" y="1185" width="83" height="123"/><rect class="a11" y="1192" width="83" height="116"/><rect class="a12" y="1205" width="83" height="103"/><rect class="a13" y="1208" width="83" height="100"/><rect class="a14" y="1212" width="83" height="96"/><rect class="a15" y="1220" width="83" height="88"/><rect class="a16" y="1222" width="83" height="86"/><rect class="a17" y="1224" width="83" height="84"/><rect class="a18" y="1226" width="83" height="82"/><rect class="a19" y="1270" width="83" height="38"/><rect class="a20" y="1298" width="83" height="10"/></g>
<g transform="translate(950,0)"><rect class="a0" y="338" width="83" height="970"/><rect class="a1" y="500" width="83" height="808"/><rect class="a2" y="590" width="83" height="718"/><rect class="a3" y="594" width="83" height="714"/><rect class="a4" y="680" width="83" height="628"/><rect class="a5" y="690" width="83" height="618"/><rect class="a6" y="720" width="83" height="588"/><rect class="a7" y="735" width="83" height="573"/><rect class="a8" y="745" width="83" height="563"/><rect class="a9" y="898" width="83" height="410"/><rect class="a10" y="1215" width="83" height="93"/><rect class="a11" y="1225" width="83" height="83"/><rect class="a12" y="1230" width="83" height="78"/><rect class="a13" y="1233" width="83" height="75"/><rect class="a14" y="1236" width="83" height="72"/><rect class="a15" y="1242" width="83" height="66"/><rect class="a16" y="1244" width="83" height="64"/><rect class="a17" y="1246" width="83" height="62"/><rect class="a18" y="1250" width="83" height="58"/><rect class="a19" y="1285" width="83" height="23"/><rect class="a20" y="1298" width="83" height="10"/></g>
<g transform="translate(1041,0)"><rect class="a0" y="338" width="83" height="970"/><rect class="a1" y="530" width="83" height="778"/><rect class="a2" y="655" width="83" height="653"/><rect class="a3" y="660" width="83" height="648"/><rect class="a4" y="823" width="83" height="485"/><rect class="a5" y="843" width="83" height="465"/><rect class="a6" y="878" width="83" height="430"/><rect class="a7" y="898" width="83" height="410"/><rect class="a8" y="908" width="83" height="400"/><rect class="a9" y="1027" width="83" height="281"/><rect class="a10" y="1177" width="83" height="131"/><rect class="a11" y="1187" width="83" height="121"/><rect class="a12" y="1198" width="83" height="110"/><rect class="a13" y="1202" width="83" height="106"/><rect class="a14" y="1206" width="83" height="102"/><rect class="a15" y="1212" width="83" height="96"/><rect class="a16" y="1215" width="83" height="93"/><rect class="a17" y="1218" width="83" height="90"/><rect class="a18" y="1222" width="83" height="86"/><rect class="a19" y="1272" width="83" height="36"/><rect class="a20" y="1295" width="83" height="13"/></g>
<g transform="translate(1133,0)"><rect class="a0" y="338" width="83" height="970"/><rect class="a1" y="518" width="83" height="790"/><rect class="a2" y="663" width="83" height="645"/><rect class="a3" y="667" width="83" height="641"/><rect class="a4" y="845" width="83" height="463"/><rect class="a5" y="862" width="83" height="446"/><rect class="a6" y="903" width="83" height="405"/><rect class="a7" y="918" width="83" height="390"/><rect class="a8" y="928" width="83" height="380"/><rect class="a9" y="1090" width="83" height="218"/><rect class="a10" y="1148" width="83" height="160"/><rect class="a11" y="1155" width="83" height="153"/><rect class="a12" y="1160" width="83" height="148"/><rect class="a13" y="1163" width="83" height="145"/><rect class="a14" y="1168" width="83" height="140"/><rect class="a15" y="1173" width="83" height="135"/><rect class="a16" y="1178" width="83" height="130"/><rect class="a17" y="1180" width="83" height="128"/><rect class="a18" y="1183" width="83" height="125"/><rect class="a19" y="1272" width="83" height="36"/><rect class="a20" y="1298" width="83" height="10"/></g>
<g transform="translate(1226,0)"><rect class="a0" y="338" width="83" height="970"/><rect class="a1" y="428" width="83" height="880"/><rect class="a2" y="547" width="83" height="761"/><rect class="a3" y="552" width="83" height="756"/><rect class="a4" y="693" width="83" height="615"/><rect class="a5" y="705" width="83" height="603"/><rect class="a6" y="723" width="83" height="585"/><rect class="a7" y="733" width="83" height="575"/><rect class="a8" y="738" width="83" height="570"/><rect class="a9" y="845" width="83" height="463"/><rect class="a10" y="1165" width="83" height="143"/><rect class="a11" y="1175" width="83" height="133"/><rect class="a12" y="1180" width="83" height="128"/><rect class="a13" y="1185" width="83" height="123"/><rect class="a14" y="1188" width="83" height="120"/><rect class="a15" y="1200" width="83" height="108"/><rect class="a16" y="1203" width="83" height="105"/><rect class="a17" y="1205" width="83" height="103"/><rect class="a18" y="1210" width="83" height="98"/><rect class="a19" y="1268" width="83" height="40"/><rect class="a20" y="1295" width="83" height="13"/></g>
<g transform="translate(1318,0)"><rect class="a0" y="338" width="83" height="970"/><rect class="a1" y="448" width="83" height="860"/><rect class="a2" y="567" width="83" height="741"/><rect class="a3" y="570" width="83" height="738"/><rect class="a4" y="693" width="83" height="615"/><rect class="a5" y="705" width="83" height="603"/><rect class="a6" y="725" width="83" height="583"/><rect class="a7" y="733" width="83" height="575"/><rect class="a8" y="738" width="83" height="570"/><rect class="a9" y="873" width="83" height="435"/><rect class="a10" y="1208" width="83" height="100"/><rect class="a11" y="1218" width="83" height="90"/><rect class="a12" y="1225" width="83" height="83"/><rect class="a13" y="1228" width="83" height="80"/><rect class="a14" y="1230" width="83" height="78"/><rect class="a15" y="1235" width="83" height="73"/><rect class="a16" y="1237" width="83" height="71"/><rect class="a17" y="1239" width="83" height="69"/><rect class="a18" y="1242" width="83" height="66"/><rect class="a19" y="1290" width="83" height="18"/><rect class="a20" y="1302" width="83" height="6"/></g>
<g transform="translate(1409,0)"><rect class="a0" y="338" width="83" height="970"/><rect class="a1" y="428" width="83" height="880"/><rect class="a2" y="495" width="83" height="813"/><rect class="a3" y="498" width="83" height="810"/><rect class="a4" y="585" width="83" height="723"/><rect class="a5" y="598" width="83" height="710"/><rect class="a6" y="608" width="83" height="700"/><rect class="a7" y="614" width="83" height="694"/><rect class="a8" y="620" width="83" height="688"/><rect class="a9" y="765" width="83" height="543"/><rect class="a10" y="1150" width="83" height="158"/><rect class="a11" y="1163" width="83" height="145"/><rect class="a12" y="1195" width="83" height="113"/><rect class="a13" y="1200" width="83" height="108"/><rect class="a14" y="1203" width="83" height="105"/><rect class="a15" y="1212" width="83" height="96"/><rect class="a16" y="1215" width="83" height="93"/><rect class="a17" y="1218" width="83" height="90"/><rect class="a18" y="1222" width="83" height="86"/><rect class="a19" y="1270" width="83" height="38"/><rect class="a20" y="1288" width="83" height="20"/></g>
</g>
<g stroke="#000">
<line x1="86.6" y1="746" x2="86.6" y2="1021" stroke-width="2"/>
<line x1="85.6" y1="1020" x2="711" y2="1020" stroke-width="2.2"/>
<g stroke-width="1"><line x1="83" y1="752" x2="86.6" y2="752"/><line x1="83" y1="818.5" x2="86.6" y2="818.5"/><line x1="83" y1="885" x2="86.6" y2="885"/><line x1="83" y1="951.5" x2="86.6" y2="951.5"/><line x1="83" y1="1018" x2="86.6" y2="1018"/>
<line x1="121.5" y1="1020" x2="121.5" y2="1024.5"/><line x1="165" y1="1020" x2="165" y2="1024.5"/><line x1="208.6" y1="1020" x2="208.6" y2="1024.5"/><line x1="252.1" y1="1020" x2="252.1" y2="1024.5"/><line x1="295.7" y1="1020" x2="295.7" y2="1024.5"/><line x1="339.3" y1="1020" x2="339.3" y2="1024.5"/><line x1="382.8" y1="1020" x2="382.8" y2="1024.5"/><line x1="425.9" y1="1020" x2="425.9" y2="1024.5"/><line x1="469.5" y1="1020" x2="469.5" y2="1024.5"/><line x1="512.6" y1="1020" x2="512.6" y2="1024.5"/><line x1="556.1" y1="1020" x2="556.1" y2="1024.5"/><line x1="600.2" y1="1020" x2="600.2" y2="1024.5"/><line x1="643.7" y1="1020" x2="643.7" y2="1024.5"/><line x1="686.8" y1="1020" x2="686.8" y2="1024.5"/></g>
</g>
<g font-size="18" text-anchor="end">
<text x="82" y="758.5">1.00</text><text x="82" y="825">0.75</text><text x="82" y="891.5">0.50</text><text x="82" y="958">0.25</text><text x="82" y="1024.5">0.00</text>
</g>
<text transform="translate(34,885) rotate(-90)" font-size="19" text-anchor="middle">Cell Type Composition</text>
<g font-size="19" class="it" text-anchor="end">
<text transform="translate(125,1031) rotate(-57)">Cov1</text><text transform="translate(168.5,1031) rotate(-57)">Cov2</text><text transform="translate(212,1031) rotate(-57)">Cov3</text><text transform="translate(255.5,1031) rotate(-57)">Cov4</text><text transform="translate(299,1031) rotate(-57)">Cov5</text><text transform="translate(342.7,1031) rotate(-57)">Cov6</text><text transform="translate(386.2,1031) rotate(-57)">Cov7</text><text transform="translate(429.3,1031) rotate(-57)">Ctrl1</text><text transform="translate(473,1031) rotate(-57)">Ctrl2</text><text transform="translate(516,1031) rotate(-57)">Ctrl3</text><text transform="translate(559.5,1031) rotate(-57)">Ctrl4</text><text transform="translate(603.6,1031) rotate(-57)">Ctrl5</text><text transform="translate(647,1031) rotate(-57)">Ctrl7</text><text transform="translate(690.2,1031) rotate(-57)">Ctrl9</text>
</g>

<!-- ================= PANEL H ================= -->
<text x="6" y="1151" font-size="20" class="bd">h</text>
<text x="176" y="1167" font-size="19">Cell type</text>
<g>
<rect class="h0" x="255.7" y="1147" width="32.4" height="30"/><rect class="h1" x="289.1" y="1147" width="32.4" height="30"/><rect class="h2" x="322.5" y="1147" width="32.4" height="30"/><rect class="h3" x="355.9" y="1147" width="32.4" height="30"/><rect class="h4" x="389.3" y="1147" width="32.4" height="30"/><rect class="h5" x="422.7" y="1147" width="32.4" height="30"/><rect class="h6" x="456.1" y="1147" width="32.4" height="30"/><rect class="h7" x="489.5" y="1147" width="32.4" height="30"/><rect class="h8" x="522.9" y="1147" width="32.4" height="30"/>
</g>
<g font-size="16" class="it">
<text transform="translate(266,1144) rotate(-50)">V.FB1</text><text transform="translate(299.4,1144) rotate(-50)">V.FB2</text><text transform="translate(332.8,1144) rotate(-50)">V.Endo1</text><text transform="translate(366.2,1144) rotate(-50)">V.Endo2</text><text transform="translate(399.6,1144) rotate(-50)">VCT</text><text transform="translate(433,1144) rotate(-50)">ST</text><text transform="translate(466.4,1144) rotate(-50)">EVT</text><text transform="translate(499.8,1144) rotate(-50)">NK</text><text transform="translate(533.2,1144) rotate(-50)">HB</text>
</g>
<g transform="translate(0,1114.9) scale(0.4735,0.2875)">
<g transform="translate(197,0)"><rect class="h0" y="275" width="92" height="1047"/><rect class="h1" y="410" width="92" height="912"/><rect class="h2" y="415" width="92" height="907"/><rect class="h3" y="475" width="92" height="847"/><rect class="h4" y="628" width="92" height="694"/><rect class="h5" y="718" width="92" height="604"/><rect class="h6" y="1218" width="92" height="104"/><rect class="h7" y="1245" width="92" height="77"/><rect class="h8" y="1262" width="92" height="60"/></g>
<g transform="translate(300,0)"><rect class="h0" y="275" width="92" height="1047"/><rect class="h1" y="528" width="92" height="794"/><rect class="h2" y="550" width="92" height="772"/><rect class="h3" y="857" width="92" height="465"/><rect class="h4" y="1058" width="92" height="264"/><rect class="h5" y="1087" width="92" height="235"/><rect class="h6" y="1115" width="92" height="207"/><rect class="h7" y="1118" width="92" height="204"/><rect class="h8" y="1132" width="92" height="190"/></g>
<g transform="translate(403,0)"><rect class="h0" y="275" width="92" height="1047"/><rect class="h1" y="456" width="92" height="866"/><rect class="h2" y="463" width="92" height="859"/><rect class="h3" y="548" width="92" height="774"/><rect class="h4" y="691" width="92" height="631"/><rect class="h5" y="792" width="92" height="530"/><rect class="h6" y="1160" width="92" height="162"/><rect class="h7" y="1185" width="92" height="137"/><rect class="h8" y="1205" width="92" height="117"/></g>
<g transform="translate(506,0)"><rect class="h0" y="275" width="92" height="1047"/><rect class="h1" y="490" width="92" height="832"/><rect class="h2" y="505" width="92" height="817"/><rect class="h3" y="722" width="92" height="600"/><rect class="h4" y="888" width="92" height="434"/><rect class="h5" y="1025" width="92" height="297"/><rect class="h6" y="1180" width="92" height="142"/><rect class="h7" y="1185" width="92" height="137"/><rect class="h8" y="1200" width="92" height="122"/></g>
<g transform="translate(609,0)"><rect class="h0" y="275" width="92" height="1047"/><rect class="h1" y="456" width="92" height="866"/><rect class="h2" y="463" width="92" height="859"/><rect class="h3" y="576" width="92" height="746"/><rect class="h4" y="752" width="92" height="570"/><rect class="h5" y="835" width="92" height="487"/><rect class="h6" y="1063" width="92" height="259"/><rect class="h7" y="1073" width="92" height="249"/><rect class="h8" y="1133" width="92" height="189"/></g>
<g transform="translate(712,0)"><rect class="h0" y="275" width="92" height="1047"/><rect class="h1" y="508" width="92" height="814"/><rect class="h2" y="523" width="92" height="799"/><rect class="h3" y="708" width="92" height="614"/><rect class="h4" y="898" width="92" height="424"/><rect class="h5" y="975" width="92" height="347"/><rect class="h6" y="1137" width="92" height="185"/><rect class="h7" y="1150" width="92" height="172"/><rect class="h8" y="1168" width="92" height="154"/></g>
<g transform="translate(815,0)"><rect class="h0" y="275" width="92" height="1047"/><rect class="h1" y="363" width="92" height="959"/><rect class="h2" y="371" width="92" height="951"/><rect class="h3" y="438" width="92" height="884"/><rect class="h4" y="578" width="92" height="744"/><rect class="h5" y="677" width="92" height="645"/><rect class="h6" y="1185" width="92" height="137"/><rect class="h7" y="1195" width="92" height="127"/><rect class="h8" y="1215" width="92" height="107"/></g>
<g transform="translate(918,0)"><rect class="h0" y="275" width="92" height="1047"/><rect class="h1" y="353" width="92" height="969"/><rect class="h2" y="360" width="92" height="962"/><rect class="h3" y="415" width="92" height="907"/><rect class="h4" y="445" width="92" height="877"/><rect class="h5" y="471" width="92" height="851"/><rect class="h6" y="1110" width="92" height="212"/><rect class="h7" y="1222" width="92" height="100"/><rect class="h8" y="1230" width="92" height="92"/></g>
<g transform="translate(1021,0)"><rect class="h0" y="275" width="92" height="1047"/><rect class="h1" y="303" width="92" height="1019"/><rect class="h2" y="305" width="92" height="1017"/><rect class="h3" y="318" width="92" height="1004"/><rect class="h4" y="328" width="92" height="994"/><rect class="h5" y="348" width="92" height="974"/><rect class="h6" y="1197" width="92" height="125"/><rect class="h7" y="1305" width="92" height="17"/><rect class="h8" y="1310" width="92" height="12"/></g>
<g transform="translate(1124,0)"><rect class="h0" y="275" width="92" height="1047"/><rect class="h1" y="575" width="92" height="747"/><rect class="h2" y="588" width="92" height="734"/><rect class="h3" y="757" width="92" height="565"/><rect class="h4" y="900" width="92" height="422"/><rect class="h5" y="990" width="92" height="332"/><rect class="h6" y="1090" width="92" height="232"/><rect class="h7" y="1100" width="92" height="222"/><rect class="h8" y="1112" width="92" height="210"/></g>
<g transform="translate(1227,0)"><rect class="h0" y="275" width="92" height="1047"/><rect class="h1" y="362" width="92" height="960"/><rect class="h2" y="367" width="92" height="955"/><rect class="h3" y="427" width="92" height="895"/><rect class="h4" y="475" width="92" height="847"/><rect class="h5" y="530" width="92" height="792"/><rect class="h6" y="1222" width="92" height="100"/><rect class="h7" y="1257" width="92" height="65"/><rect class="h8" y="1273" width="92" height="49"/></g>
<g transform="translate(1330,0)"><rect class="h0" y="275" width="92" height="1047"/><rect class="h1" y="350" width="92" height="972"/><rect class="h2" y="362" width="92" height="960"/><rect class="h3" y="518" width="92" height="804"/><rect class="h4" y="548" width="92" height="774"/><rect class="h5" y="588" width="92" height="734"/><rect class="h6" y="1222" width="92" height="100"/><rect class="h7" y="1265" width="92" height="57"/><rect class="h8" y="1272" width="92" height="50"/></g>
<g transform="translate(1432,0)"><rect class="h0" y="275" width="92" height="1047"/><rect class="h1" y="340" width="92" height="982"/><rect class="h2" y="342" width="92" height="980"/><rect class="h3" y="387" width="92" height="935"/><rect class="h4" y="430" width="92" height="892"/><rect class="h5" y="478" width="92" height="844"/><rect class="h6" y="1130" width="92" height="192"/><rect class="h7" y="1207" width="92" height="115"/><rect class="h8" y="1222" width="92" height="100"/></g>
</g>
<g stroke="#000">
<line x1="85.2" y1="1189" x2="85.2" y2="1498" stroke-width="2"/>
<line x1="84.2" y1="1497.3" x2="727" y2="1497.3" stroke-width="2.2"/>
<g stroke-width="1"><line x1="81.5" y1="1194" x2="85.2" y2="1194"/><line x1="81.5" y1="1269" x2="85.2" y2="1269"/><line x1="81.5" y1="1344.5" x2="85.2" y2="1344.5"/><line x1="81.5" y1="1419.8" x2="85.2" y2="1419.8"/><line x1="81.5" y1="1495" x2="85.2" y2="1495"/>
<line x1="115.1" y1="1497" x2="115.1" y2="1502"/><line x1="163.8" y1="1497" x2="163.8" y2="1502"/><line x1="212.6" y1="1497" x2="212.6" y2="1502"/><line x1="261.4" y1="1497" x2="261.4" y2="1502"/><line x1="310.1" y1="1497" x2="310.1" y2="1502"/><line x1="358.9" y1="1497" x2="358.9" y2="1502"/><line x1="407.7" y1="1497" x2="407.7" y2="1502"/><line x1="456.5" y1="1497" x2="456.5" y2="1502"/><line x1="505.2" y1="1497" x2="505.2" y2="1502"/><line x1="554" y1="1497" x2="554" y2="1502"/><line x1="602.8" y1="1497" x2="602.8" y2="1502"/><line x1="651.5" y1="1497" x2="651.5" y2="1502"/><line x1="699.8" y1="1497" x2="699.8" y2="1502"/></g>
</g>
<g font-size="18" text-anchor="end">
<text x="80" y="1203">1.00</text><text x="80" y="1278">0.75</text><text x="80" y="1352.5">0.50</text><text x="80" y="1427.5">0.25</text><text x="80" y="1501.5">0.00</text>
</g>
<text transform="translate(28,1345) rotate(-90)" font-size="19" text-anchor="middle">Cell Type Composition</text>
<g font-size="19" class="it" text-anchor="end">
<text transform="translate(119,1508) rotate(-57)">Cov2</text><text transform="translate(167.8,1508) rotate(-57)">Cov3</text><text transform="translate(216.6,1508) rotate(-57)">Cov4</text><text transform="translate(265.4,1508) rotate(-57)">Cov5</text><text transform="translate(314.1,1508) rotate(-57)">Cov6</text><text transform="translate(362.9,1508) rotate(-57)">Cov7</text><text transform="translate(411.7,1508) rotate(-57)">Ctrl1</text><text transform="translate(460.5,1508) rotate(-57)">Ctrl2</text><text transform="translate(509.2,1508) rotate(-57)">Ctrl3</text><text transform="translate(558,1508) rotate(-57)">Ctrl4</text><text transform="translate(606.8,1508) rotate(-57)">Ctrl5</text><text transform="translate(655.5,1508) rotate(-57)">Ctrl7</text><text transform="translate(703.8,1508) rotate(-57)">Ctrl9</text>
</g>

<!-- ================= PANEL F ================= -->
<text x="752" y="683" font-size="20" class="bd">f</text>
<g font-size="16" text-anchor="middle">
<text x="888.9" y="699.5">p = 1.00</text><text x="1002" y="699.5">p = 0.60</text><text x="1123.9" y="699.5">p = 0.69</text>
</g>
<line x1="838.3" y1="708.6" x2="838.3" y2="888.6" stroke="#000" stroke-width="1.6"/>
<line x1="837.5" y1="887.6" x2="1189.8" y2="887.6" stroke="#000" stroke-width="2"/>
<g stroke="#000" stroke-width="1"><line x1="835" y1="723.8" x2="838.3" y2="723.8"/><line x1="835" y1="810.5" x2="838.3" y2="810.5"/><line x1="890" y1="887.6" x2="890" y2="891"/><line x1="1006" y1="887.6" x2="1006" y2="891"/><line x1="1126" y1="887.6" x2="1126" y2="891"/></g>
<g font-size="16" text-anchor="end"><text x="833" y="729.5">0</text><text x="833" y="816">-5</text></g>
<g font-size="18" text-anchor="middle">
<text x="890" y="906">TBP</text><text x="1006" y="906" class="it">ACE2</text><text x="1129.4" y="906" class="it">TMPRSS2</text>
</g>
<text transform="translate(777,798.8) rotate(-90)" font-size="18" text-anchor="middle">log<tspan font-size="12" dy="4">2</tspan><tspan dy="-4">(Expression</tspan></text>
<text transform="translate(800,798.8) rotate(-90)" font-size="18" text-anchor="middle">relative to <tspan class="it">TBP</tspan>)</text>
<g stroke="#000" stroke-width="2.2"><line x1="861.7" y1="723.8" x2="885.9" y2="723.8"/><line x1="897.4" y1="723.8" x2="921.2" y2="723.8"/></g>
<g stroke="#000" stroke-width="0.8">
<line x1="988.9" y1="787.2" x2="988.9" y2="812.5"/><rect x="977.3" y="791.6" width="23.3" height="19.7" fill="#2E2A86"/><line x1="977.3" y1="805.5" x2="1000.6" y2="805.5"/>
<line x1="1024" y1="796" x2="1024" y2="811.3"/><rect x="1012" y="799.7" width="23.9" height="11.6" fill="#F2E21B"/><line x1="1012" y1="804" x2="1035.9" y2="804"/>
<line x1="1108.7" y1="810.5" x2="1108.7" y2="843.9"/><rect x="1097" y="823.6" width="23.5" height="20.3" fill="#2E2A86"/><line x1="1097" y1="831.7" x2="1120.5" y2="831.7"/>
<line x1="1144" y1="809.9" x2="1144" y2="874.5"/><rect x="1132.4" y="825" width="23.4" height="34" fill="#F2E21B"/><line x1="1132.4" y1="854" x2="1155.8" y2="854"/>
</g>
<g fill="#000">
<circle cx="988.9" cy="787.2" r="1.1"/><circle cx="988.9" cy="795" r="1.1"/><circle cx="988.9" cy="805.5" r="1.1"/><circle cx="988.9" cy="812.5" r="1.1"/>
<circle cx="1024" cy="775.6" r="1.1"/><circle cx="1024" cy="796" r="1.1"/><circle cx="1024" cy="804" r="1.1"/><circle cx="1024" cy="811.3" r="1.1"/><circle cx="1024" cy="842.5" r="1.1"/>
<circle cx="1108.7" cy="810.5" r="1.1"/><circle cx="1108.7" cy="823.6" r="1.1"/><circle cx="1108.7" cy="831.7" r="1.1"/><circle cx="1108.7" cy="843.9" r="1.1"/><circle cx="1108.7" cy="874.5" r="1.1"/>
<circle cx="1144" cy="809.9" r="1.1"/><circle cx="1144" cy="838.3" r="1.1"/><circle cx="1144" cy="854" r="1.1"/><circle cx="1144" cy="861.5" r="1.1"/><circle cx="1144" cy="874.5" r="1.1"/>
</g>
<g stroke="#000" stroke-width="0.8">
<line x1="1205.5" y1="781" x2="1205.5" y2="797"/><rect x="1198" y="783.7" width="15" height="10.8" fill="#2E2A86"/>
<line x1="1205.5" y1="800" x2="1205.5" y2="816"/><rect x="1198" y="803" width="15" height="10.4" fill="#F2E21B"/><line x1="1198" y1="808.2" x2="1213" y2="808.2"/>
</g>
<g font-size="18"><text x="1221.6" y="795">Ctrl</text><text x="1221.6" y="814">Cov</text></g>
<g font-size="16" text-anchor="middle">
<text x="1355" y="666">Average</text><text x="1355" y="687">Expression</text>
</g>
<rect x="1313" y="694" width="91" height="18" fill="url(#avg1)"/>
<g stroke="#fff" stroke-width="0.8"><line x1="1344" y1="694" x2="1344" y2="698"/><line x1="1344" y1="708" x2="1344" y2="712"/><line x1="1374.6" y1="694" x2="1374.6" y2="698"/><line x1="1374.6" y1="708" x2="1374.6" y2="712"/></g>
<g font-size="16" text-anchor="middle"><text x="1313" y="728">4</text><text x="1344" y="728">3</text><text x="1374.6" y="728">2</text><text x="1404" y="728">1</text></g>

<!-- dot plot -->
<g font-size="18" class="it" text-anchor="end">
<text x="832.8" y="937.5">SIGLEC1</text><text x="832.8" y="958.8">FURIN</text><text x="832.8" y="980.6">NRP1</text><text x="832.8" y="1000.7">CTSL</text><text x="832.8" y="1022.8">TMPRSS2</text><text x="832.8" y="1044.3">ACE2</text>
</g>
<line x1="838.3" y1="922.5" x2="838.3" y2="1048.6" stroke="#000" stroke-width="1.6"/>
<line x1="837.5" y1="1047.6" x2="1270.5" y2="1047.6" stroke="#000" stroke-width="2"/>
<g>
<circle cx="849.8" cy="931.2" r="2.3" fill="#5A6CC8"/><circle cx="866.8" cy="931.2" r="4.4" fill="#3A5AC8"/><circle cx="886.3" cy="931.2" r="3.4" fill="#4858C6"/><circle cx="905.9" cy="931.2" r="3.4" fill="#6660C2"/>
<g fill="#B0AED6"><circle cx="924.6" cy="931.2" r="0.8"/><circle cx="944.1" cy="931.2" r="0.8"/><circle cx="963.2" cy="931.2" r="0.8"/><circle cx="981.9" cy="931.2" r="0.8"/><circle cx="1001.5" cy="931.2" r="0.8"/><circle cx="1023.2" cy="931.2" r="0.8"/><circle cx="1044.4" cy="931.2" r="0.8"/><circle cx="1066.9" cy="931.2" r="0.8"/><circle cx="1089" cy="931.2" r="0.8"/><circle cx="1111.1" cy="931.2" r="0.8"/><circle cx="1132.8" cy="931.2" r="0.8"/><circle cx="1151.9" cy="931.2" r="0.8"/><circle cx="1171.5" cy="931.2" r="0.8"/><circle cx="1193.2" cy="931.2" r="0.8"/><circle cx="1215.3" cy="931.2" r="0.8"/><circle cx="1237" cy="931.2" r="0.8"/><circle cx="1258.6" cy="931.2" r="0.8"/></g>
<circle cx="849.8" cy="952.5" r="1.5" fill="#A8A8D8"/><circle cx="866.8" cy="952.5" r="1.2" fill="#C0BCE0"/><circle cx="886.3" cy="952.5" r="1.3" fill="#A8A8D8"/><circle cx="905.9" cy="952.5" r="1.3" fill="#B0AED8"/><circle cx="924.6" cy="952.5" r="1.6" fill="#8A8CCC"/><circle cx="944.1" cy="952.5" r="1" fill="#C8C4E2"/><circle cx="963.2" cy="952.5" r="1.8" fill="#6A72C2"/><circle cx="981.9" cy="952.5" r="1.1" fill="#C8C4E2"/><circle cx="1001.5" cy="952.5" r="1.8" fill="#7278C4"/><circle cx="1023.2" cy="952.5" r="1.2" fill="#C0BCE0"/><circle cx="1044.4" cy="952.5" r="2.6" fill="#4A5CC6"/><circle cx="1066.9" cy="952.5" r="2.8" fill="#3A58C8"/><circle cx="1089" cy="952.5" r="1.5" fill="#9A9AD2"/><circle cx="1111.1" cy="952.5" r="1.6" fill="#8C8ECE"/><circle cx="1132.8" cy="952.5" r="1.2" fill="#C0BCE0"/><circle cx="1151.9" cy="952.5" r="1.2" fill="#C0BCE0"/><circle cx="1171.5" cy="952.5" r="1.2" fill="#C0BCE0"/><circle cx="1193.2" cy="952.5" r="1.3" fill="#B0AED8"/><circle cx="1215.3" cy="952.5" r="1.5" fill="#A0A0D4"/><circle cx="1237" cy="952.5" r="1.2" fill="#C0BCE0"/><circle cx="1258.6" cy="952.5" r="1.2" fill="#C0BCE0"/>
<circle cx="849.8" cy="974.3" r="2.8" fill="#B0A2D8"/><circle cx="866.8" cy="974.3" r="5.6" fill="#3A58C8"/><circle cx="886.3" cy="974.3" r="4.3" fill="#6464C4"/><circle cx="905.9" cy="974.3" r="4.1" fill="#8A78C6"/><circle cx="924.6" cy="974.3" r="2.2" fill="#CCC4E4"/><circle cx="944.1" cy="974.3" r="2" fill="#CCC4E4"/><circle cx="963.2" cy="974.3" r="2.2" fill="#C4BCE0"/><circle cx="981.9" cy="974.3" r="2.2" fill="#CCC4E4"/><circle cx="1001.5" cy="974.3" r="2" fill="#CCC4E4"/><circle cx="1023.2" cy="974.3" r="2" fill="#D0CAE6"/><circle cx="1044.4" cy="974.3" r="2.6" fill="#BCB0DC"/><circle cx="1066.9" cy="974.3" r="2.2" fill="#C8C0E2"/><circle cx="1089" cy="974.3" r="3" fill="#A898D4"/><circle cx="1111.1" cy="974.3" r="2.6" fill="#BEB2DE"/><circle cx="1132.8" cy="974.3" r="2.3" fill="#C8C0E2"/><circle cx="1151.9" cy="974.3" r="2.6" fill="#B8ACDA"/><circle cx="1171.5" cy="974.3" r="5.1" fill="#7E6EC0"/><circle cx="1193.2" cy="974.3" r="3.5" fill="#A290CE"/><circle cx="1215.3" cy="974.3" r="2.6" fill="#BEB2DE"/><circle cx="1237" cy="974.3" r="2.3" fill="#C8C0E2"/><circle cx="1258.6" cy="974.3" r="2.6" fill="#BEB2DE"/>
<circle cx="849.8" cy="994.4" r="2.6" fill="#A898D4"/><circle cx="866.8" cy="994.4" r="3" fill="#B4A6DA"/><circle cx="886.3" cy="994.4" r="2.5" fill="#A496D2"/><circle cx="905.9" cy="994.4" r="2.5" fill="#8A82C8"/><circle cx="924.6" cy="994.4" r="1.8" fill="#CCC6E4"/><circle cx="944.1" cy="994.4" r="1.8" fill="#CCC6E4"/><circle cx="963.2" cy="994.4" r="2" fill="#BCB4DE"/><circle cx="981.9" cy="994.4" r="1.5" fill="#D4D0E8"/><circle cx="1001.5" cy="994.4" r="1.8" fill="#CCC6E4"/><circle cx="1023.2" cy="994.4" r="3" fill="#5A62C2"/><circle cx="1044.4" cy="994.4" r="3.6" fill="#4A5CC6"/><circle cx="1066.9" cy="994.4" r="2.5" fill="#A49AD2"/><circle cx="1089" cy="994.4" r="2.8" fill="#7A72C4"/><circle cx="1111.1" cy="994.4" r="3.3" fill="#3A58C8"/><circle cx="1132.8" cy="994.4" r="2.3" fill="#B4AADA"/><circle cx="1151.9" cy="994.4" r="1.8" fill="#CCC6E4"/><circle cx="1171.5" cy="994.4" r="1.5" fill="#DCD8EC"/><circle cx="1193.2" cy="994.4" r="2" fill="#BCB4DE"/><circle cx="1215.3" cy="994.4" r="2.2" fill="#8C8CCC"/><circle cx="1237" cy="994.4" r="1.8" fill="#CCC6E4"/><circle cx="1258.6" cy="994.4" r="2" fill="#C4BEE0"/>
<g fill="#8A8A9A"><circle cx="849.8" cy="1016.5" r="0.6"/><circle cx="866.8" cy="1016.5" r="0.6"/><circle cx="886.3" cy="1016.5" r="0.6"/><circle cx="905.9" cy="1016.5" r="0.6"/><circle cx="924.6" cy="1016.5" r="0.6"/><circle cx="944.1" cy="1016.5" r="0.6"/><circle cx="963.2" cy="1016.5" r="0.6"/><circle cx="981.9" cy="1016.5" r="0.6"/><circle cx="1001.5" cy="1016.5" r="0.6"/><circle cx="1023.2" cy="1016.5" r="0.6"/><circle cx="1044.4" cy="1016.5" r="0.6"/><circle cx="1066.9" cy="1016.5" r="0.6"/><circle cx="1089" cy="1016.5" r="0.6"/><circle cx="1111.1" cy="1016.5" r="0.6"/><circle cx="1132.8" cy="1016.5" r="0.6"/><circle cx="1151.9" cy="1016.5" r="0.6"/><circle cx="1171.5" cy="1016.5" r="0.6"/><circle cx="1193.2" cy="1016.5" r="0.6"/><circle cx="1215.3" cy="1016.5" r="0.6"/><circle cx="1237" cy="1016.5" r="0.6"/><circle cx="1258.6" cy="1016.5" r="0.6"/>
<circle cx="849.8" cy="1038" r="0.6"/><circle cx="866.8" cy="1038" r="0.6"/><circle cx="886.3" cy="1038" r="0.6"/><circle cx="905.9" cy="1038" r="0.6"/><circle cx="924.6" cy="1038" r="0.6"/><circle cx="944.1" cy="1038" r="0.6"/><circle cx="963.2" cy="1038" r="0.6"/><circle cx="981.9" cy="1038" r="0.6"/><circle cx="1001.5" cy="1038" r="0.6"/><circle cx="1023.2" cy="1038" r="0.6"/><circle cx="1044.4" cy="1038" r="0.6"/><circle cx="1066.9" cy="1038" r="0.6"/><circle cx="1089" cy="1038" r="0.6"/><circle cx="1111.1" cy="1038" r="0.6"/><circle cx="1132.8" cy="1038" r="0.6"/><circle cx="1151.9" cy="1038" r="0.6"/><circle cx="1171.5" cy="1038" r="0.6"/><circle cx="1193.2" cy="1038" r="0.6"/><circle cx="1215.3" cy="1038" r="0.6"/><circle cx="1237" cy="1038" r="0.6"/><circle cx="1258.6" cy="1038" r="0.6"/></g>
</g>
<g stroke="#000" stroke-width="0.8">
<line x1="849.8" y1="1047.6" x2="849.8" y2="1051"/><line x1="866.8" y1="1047.6" x2="866.8" y2="1051"/><line x1="886.3" y1="1047.6" x2="886.3" y2="1051"/><line x1="905.9" y1="1047.6" x2="905.9" y2="1051"/><line x1="924.6" y1="1047.6" x2="924.6" y2="1051"/><line x1="944.1" y1="1047.6" x2="944.1" y2="1051"/><line x1="963.2" y1="1047.6" x2="963.2" y2="1051"/><line x1="981.9" y1="1047.6" x2="981.9" y2="1051"/><line x1="1001.5" y1="1047.6" x2="1001.5" y2="1051"/><line x1="1023.2" y1="1047.6" x2="1023.2" y2="1051"/><line x1="1044.4" y1="1047.6" x2="1044.4" y2="1051"/><line x1="1066.9" y1="1047.6" x2="1066.9" y2="1051"/><line x1="1089" y1="1047.6" x2="1089" y2="1051"/><line x1="1111.1" y1="1047.6" x2="1111.1" y2="1051"/><line x1="1132.8" y1="1047.6" x2="1132.8" y2="1051"/><line x1="1151.9" y1="1047.6" x2="1151.9" y2="1051"/><line x1="1171.5" y1="1047.6" x2="1171.5" y2="1051"/><line x1="1193.2" y1="1047.6" x2="1193.2" y2="1051"/><line x1="1215.3" y1="1047.6" x2="1215.3" y2="1051"/><line x1="1237" y1="1047.6" x2="1237" y2="1051"/><line x1="1258.6" y1="1047.6" x2="1258.6" y2="1051"/>
</g>
<g font-size="18" text-anchor="end">
<text transform="translate(856,1053) rotate(-90)">DC</text><text transform="translate(873,1053) rotate(-90)">HB</text><text transform="translate(892.5,1053) rotate(-90)">M2</text><text transform="translate(912,1053) rotate(-90)">APC.M</text><text transform="translate(930.8,1053) rotate(-90)">Bcell</text><text transform="translate(950.3,1053) rotate(-90)">N.Tcell</text><text transform="translate(969.4,1053) rotate(-90)">Tcell</text><text transform="translate(988,1053) rotate(-90)">NK2</text><text transform="translate(1007.7,1053) rotate(-90)">NK1</text><text transform="translate(1029.4,1053) rotate(-90)">EVT</text><text transform="translate(1050.6,1053) rotate(-90)">VCT/ST</text><text transform="translate(1073.1,1053) rotate(-90)">ST</text><text transform="translate(1095.2,1053) rotate(-90)">VCT</text><text transform="translate(1117.3,1053) rotate(-90)">D.SC2</text><text transform="translate(1139,1053) rotate(-90)">D.SC1</text><text transform="translate(1158.1,1053) rotate(-90)">D.PC</text><text transform="translate(1177.7,1053) rotate(-90)">L.Endo</text><text transform="translate(1199.4,1053) rotate(-90)">V.Endo</text><text transform="translate(1221.5,1053) rotate(-90)">D.Endo</text><text transform="translate(1243.2,1053) rotate(-90)">V.FB2</text><text transform="translate(1264.8,1053) rotate(-90)">V.FB1</text>
</g>
<g font-size="16" text-anchor="middle">
<text x="1337" y="954">Percent</text><text x="1337" y="975">Expressed</text>
<text x="1335" y="1036.5">Average</text><text x="1335" y="1056">Expression</text>
</g>
<circle cx="1298" cy="985.7" r="0.5" fill="#000"/><circle cx="1321.5" cy="985.7" r="1.8" fill="#000"/><circle cx="1345.7" cy="985.7" r="3.2" fill="#000"/><circle cx="1369.5" cy="985.7" r="4.4" fill="#000"/>
<g font-size="15" text-anchor="middle"><text x="1298" y="1006.5">0</text><text x="1321.5" y="1006.5">25</text><text x="1345.7" y="1006.5">50</text><text x="1369.5" y="1006.5">75</text></g>
<rect x="1286.6" y="1062.2" width="99.9" height="19" fill="url(#avg2)"/>
<g stroke="#fff" stroke-width="0.8"><line x1="1300" y1="1062.2" x2="1300" y2="1066"/><line x1="1300" y1="1077.5" x2="1300" y2="1081.2"/><line x1="1321.5" y1="1062.2" x2="1321.5" y2="1066"/><line x1="1321.5" y1="1077.5" x2="1321.5" y2="1081.2"/><line x1="1353.4" y1="1062.2" x2="1353.4" y2="1066"/><line x1="1353.4" y1="1077.5" x2="1353.4" y2="1081.2"/><line x1="1376" y1="1062.2" x2="1376" y2="1066"/><line x1="1376" y1="1077.5" x2="1376" y2="1081.2"/></g>
<g font-size="16" text-anchor="middle"><text x="1300" y="1097">2</text><text x="1321.5" y="1097">1</text><text x="1353.4" y="1097">0</text><text x="1376" y="1097">−1</text></g>

<!-- ================= PANEL G ================= -->
<text x="752" y="1153" font-size="20" class="bd">g</text>
<g font-size="18" class="it" text-anchor="middle">
<text x="865.7" y="1152">PARP1</text><text x="1092.7" y="1152">GATA3</text><text x="1315" y="1152">H19</text>
<text x="865.7" y="1404.5">CD4</text><text x="1214.9" y="1404.5">CD8A</text>
</g>
<g font-size="16" text-anchor="middle">
<text x="865.7" y="1315">UMAP1</text><text x="1091.5" y="1315">UMAP1</text><text x="1313.8" y="1315">UMAP1</text>
<text x="865.7" y="1564.5">UMAP1</text><text x="1214.9" y="1564.5">UMAP1</text>
<text transform="translate(772,1222.5) rotate(-90)">UMAP2</text>
<text transform="translate(772,1472.8) rotate(-90)">UMAP2</text>
<text transform="translate(1119.5,1472.8) rotate(-90)">UMAP2</text>
</g>
<g fill="none" stroke="#000" stroke-width="1.5">
<path d="M781,1150.6 V1294.7 H952.6"/><path d="M1006.8,1150.6 V1294.7 H1177.5"/><path d="M1229,1150.6 V1294.7 H1400.2"/>
<path d="M781,1401.5 V1544.2 H952.6"/><path d="M1128,1401.5 V1544.2 H1299"/>
</g>
<g transform="translate(781,1150.6) scale(0.43,0.2797)">
<use href="#gB" xlink:href="#gB" fill="url(#parpB)"/>
<ellipse cx="120" cy="285" rx="10" ry="28" fill="#F8D848"/>
<ellipse cx="108" cy="395" rx="9" ry="18" fill="#F8C848" opacity="0.9"/>
<use href="#gT" xlink:href="#gT" fill="#2C3A92"/>
<ellipse cx="325" cy="125" rx="6" ry="25" fill="#F2B040"/>
<ellipse cx="370" cy="180" rx="10" ry="30" fill="#141A50" opacity="0.8"/>
<use href="#gL" xlink:href="#gL" fill="#3A4AA8"/>
<use href="#gS" xlink:href="#gS" fill="#3A4AA8"/>
<ellipse cx="302" cy="430" rx="4" ry="20" fill="#C84890"/>
</g>
<g transform="translate(1006.8,1150.6) scale(0.43,0.2797)">
<use href="#gB" xlink:href="#gB" fill="url(#gataB)"/>
<use href="#gT" xlink:href="#gT" fill="#4052A8"/>
<use href="#gL" xlink:href="#gL" fill="#D04A8A"/>
<use href="#gS" xlink:href="#gS" fill="#1C2468"/>
</g>
<g transform="translate(1229,1150.6) scale(0.43,0.2797)">
<use href="#gB" xlink:href="#gB" fill="#1E2466"/>
<use href="#gT" xlink:href="#gT" fill="url(#h19T)"/>
<use href="#gL" xlink:href="#gL" fill="#3A4AA8"/>
<use href="#gS" xlink:href="#gS" fill="#1E2468"/>
</g>
<g transform="translate(781,1401.5) scale(0.43,0.2797)">
<use href="#gB" xlink:href="#gB" fill="#1F2870"/>
<use href="#gT" xlink:href="#gT" fill="url(#cd4T)"/>
<use href="#gL" xlink:href="#gL" fill="#3A4AA8"/>
<use href="#gS" xlink:href="#gS" fill="url(#cd4S)"/>
</g>
<g transform="translate(1128,1401.5) scale(0.43,0.2797)">
<use href="#gB" xlink:href="#gB" fill="url(#cd8B)"/>
<use href="#gT" xlink:href="#gT" fill="#3A4CAE"/>
<use href="#gL" xlink:href="#gL" fill="#F8D040"/>
<use href="#gS" xlink:href="#gS" fill="#1E2468"/>
</g>
<rect x="812" y="1319.8" width="105.3" height="21" fill="url(#plasmaH)"/>
<rect x="1041" y="1319.8" width="102" height="21" fill="url(#plasmaH)"/>
<rect x="1262.6" y="1319.8" width="101.9" height="21" fill="url(#plasmaH)"/>
<g font-size="16" text-anchor="middle">
<text x="845" y="1354.5">0.5</text><text x="895.8" y="1354.5">0.7</text>
<text x="1061.4" y="1354.5">0.4</text><text x="1090.6" y="1354.5">0.6</text><text x="1120.7" y="1354.5">0.8</text>
<text x="1286.2" y="1354.5">0.01</text><text x="1347.3" y="1354.5">0.03</text>
<text x="865.7" y="1370.5">log<tspan font-size="11" dy="3">2</tspan><tspan dy="-3">(Normalised Counts +1)</tspan></text>
<text x="1091.5" y="1370.5">log<tspan font-size="11" dy="3">2</tspan><tspan dy="-3">(Normalised Counts +1)</tspan></text>
<text x="1313.8" y="1370.5">log<tspan font-size="11" dy="3">2</tspan><tspan dy="-3">(Normalised Counts +1)</tspan></text>
<text x="1032.5" y="1419.5">log<tspan font-size="11" dy="3">2</tspan><tspan dy="-3">(Normalised</tspan></text>
<text x="1032.5" y="1439">Counts +1)</text>
<text x="1360" y="1419.5">log<tspan font-size="11" dy="3">2</tspan><tspan dy="-3">(Normalised</tspan></text>
<text x="1362" y="1439">Counts +1)</text>
</g>
<rect x="1011.9" y="1447.7" width="18.1" height="88.1" fill="url(#plasmaV)"/>
<rect x="1343" y="1447.7" width="18" height="90.9" fill="url(#plasmaV)"/>
<g font-size="16">
<text x="1032" y="1458.7">0.6</text><text x="1032" y="1481">0.5</text><text x="1032" y="1503">0.4</text><text x="1032" y="1525">0.3</text>
<text x="1363" y="1454.5">0.4</text><text x="1363" y="1492.3">0.3</text><text x="1363" y="1528.7">0.2</text>
</g>
<g stroke="#fff" stroke-width="0.8">
<line x1="845" y1="1319.8" x2="845" y2="1323"/><line x1="895.8" y1="1319.8" x2="895.8" y2="1323"/><line x1="1061.4" y1="1319.8" x2="1061.4" y2="1323"/><line x1="1090.6" y1="1319.8" x2="1090.6" y2="1323"/><line x1="1120.7" y1="1319.8" x2="1120.7" y2="1323"/><line x1="1286.2" y1="1319.8" x2="1286.2" y2="1323"/><line x1="1347.3" y1="1319.8" x2="1347.3" y2="1323"/>
</g>
</svg>
</body></html>
